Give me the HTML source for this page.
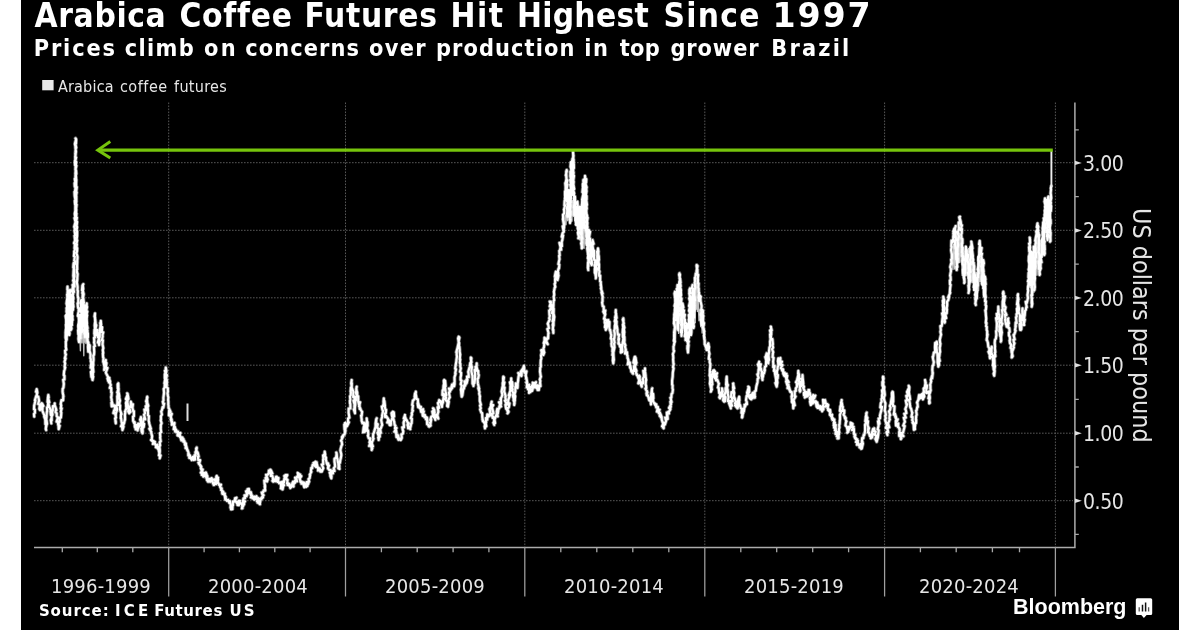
<!DOCTYPE html>
<html><head><meta charset="utf-8"><title>Arabica Coffee Futures Hit Highest Since 1997</title>
<style>
html,body{margin:0;padding:0;background:#fff;}
body{width:1200px;height:630px;overflow:hidden;position:relative;}
#panel{position:absolute;left:21px;top:0;width:1158px;height:630px;background:#000;}
svg{position:absolute;left:0;top:0;}
.t{position:absolute;white-space:nowrap;color:#fff;line-height:1;left:0;will-change:transform;}
.w{position:absolute;top:0;}
.title{top:-1.4px;font:bold 33.2px/1 "DejaVu Sans Condensed","DejaVu Sans","Liberation Sans",sans-serif;}
.sub{top:36px;font:bold 23.3px/1 "DejaVu Sans Condensed","DejaVu Sans","Liberation Sans",sans-serif;}
.leg{top:78.6px;font:16px/1 "DejaVu Sans Condensed","DejaVu Sans","Liberation Sans",sans-serif;color:#e6e6e6;}
.src{top:603.7px;font:bold 15px/1 "DejaVu Sans","Liberation Sans",sans-serif;}
#bb{left:1013px;top:597.3px;font:bold 21.5px/1 "Liberation Sans",sans-serif;}
.xl{font:20px/1 "DejaVu Sans Condensed","DejaVu Sans","Liberation Sans",sans-serif;letter-spacing:0.2px;color:#e6e6e6;top:575.8px;transform:translateX(-50%);}
.yl{font:21px/1 "DejaVu Sans Condensed","DejaVu Sans","Liberation Sans",sans-serif;letter-spacing:-0.4px;color:#e6e6e6;left:1082.6px;margin-top:1.4px;}
#ytitle{left:1153.2px;top:207.8px;font:24.9px/1 "DejaVu Sans Condensed","DejaVu Sans","Liberation Sans",sans-serif;color:#e6e6e6;transform-origin:0 0;transform:rotate(90deg);}
</style></head><body>
<div id="panel"></div>
<svg width="1200" height="630" viewBox="0 0 1200 630">
<g id="grid" stroke="#585858" stroke-width="1" stroke-dasharray="1.6 1.4" fill="none">
<path d="M34 162.7H1073M34 230.3H1073M34 297.8H1073M34 365.2H1073M34 433.2H1073M34 500.7H1073"/>
<path d="M168.7 102.5V547M345.5 102.5V547M524.8 102.5V547M704.8 102.5V547M884.6 102.5V547M1055.4 102.5V547"/>
</g>
<g id="axes" stroke="#acacac" stroke-width="1.5" fill="none">
<path d="M34 547.5H1075.7M1074.9 102.5V548.3"/>
<path d="M168.7 547V596.5M345.5 547V596.5M524.8 547V596.5M704.8 547V596.5M884.6 547V596.5M1055.4 547V596.5" stroke-width="1.25" stroke="#a0a0a0"/>
</g>
<g id="ticks" stroke="#a8a8a8" stroke-width="1.3" fill="none">
<path d="M62.3 547.5V552.3M97.3 547.5V552.3M132.8 547.5V552.3M204.1 547.5V552.3M239.4 547.5V552.3M274.8 547.5V552.3M310.1 547.5V552.3M381.4 547.5V552.3M417.2 547.5V552.3M453.1 547.5V552.3M488.9 547.5V552.3M560.8 547.5V552.3M596.8 547.5V552.3M632.8 547.5V552.3M668.8 547.5V552.3M740.8 547.5V552.3M776.7 547.5V552.3M812.7 547.5V552.3M848.6 547.5V552.3M920.4 547.5V552.3M956.2 547.5V552.3M992.4 547.5V552.3M1019.5 547.5V552.3"/>
<path d="M1075 129.8H1078.8M1075 196.7H1078.8M1075 264.2H1078.8M1075 331.6H1078.8M1075 399.3H1078.8M1075 467H1078.8M1075 534.4H1078.8"/>
</g>
<g id="ymaj" fill="#e0e0e0"><path d="M1075 160.7L1081.8 162.9L1075 165.1Z"/><path d="M1075 228.3L1081.8 230.5L1075 232.7Z"/><path d="M1075 295.7L1081.8 297.9L1075 300.1Z"/><path d="M1075 363.1L1081.8 365.3L1075 367.5Z"/><path d="M1075 431.1L1081.8 433.3L1075 435.5Z"/><path d="M1075 498.6L1081.8 500.8L1075 503.0Z"/></g>
<defs><path id="sp" d="M34.2,416.7 34.0,414.0 34.9,412.9 34.9,409.5 34.0,409.3 34.2,405.2 34.5,404.5 35.4,400.4 34.9,400.4 36.2,396.0 36.3,396.5 37.3,393.0 37.3,392.1 36.7,389.2 36.0,391.8 36.9,390.8 36.9,396.5 38.3,396.7 38.9,399.8 39.0,400.7 38.2,404.0 39.8,404.6 39.3,408.9 40.0,410.0 40.2,410.0 41.5,405.9 40.2,408.3 41.4,403.3 42.4,405.5 42.0,403.3 43.4,406.0 42.6,406.4 42.4,411.0 42.5,411.0 44.4,415.6 44.2,416.7 45.3,419.7 45.3,420.0 45.4,424.3 46.2,424.0 45.8,429.0 46.2,430.0 45.8,428.5 46.6,424.7 47.0,423.9 46.6,420.5 46.3,419.6 46.6,416.6 46.6,415.5 46.8,412.1 47.2,411.2 47.0,407.6 47.7,406.9 48.2,402.8 47.6,402.1 47.9,398.4 48.7,397.5 48.3,395.0 47.9,397.9 48.3,398.4 49.3,402.4 48.4,402.9 49.4,407.2 50.0,408.3 51.1,411.7 50.4,411.4 50.9,415.1 51.6,415.5 51.7,420.4 50.9,420.3 51.3,423.3 50.8,419.9 51.1,419.3 51.8,416.1 52.5,414.8 52.1,411.6 52.7,410.8 52.9,406.2 54.6,406.1 54.7,403.3 54.5,405.8 55.1,406.1 56.4,410.0 56.0,409.0 55.5,412.1 56.7,413.3 56.7,416.3 58.0,417.3 56.6,421.7 57.9,421.9 58.2,425.0 58.5,425.3 58.7,429.2 59.7,425.8 58.7,425.6 58.8,421.3 59.8,421.8 59.7,417.6 60.9,417.7 61.3,412.5 60.8,411.7 61.7,408.3 60.7,408.7 61.2,405.2 60.7,404.3 61.4,400.2 63.1,400.4 63.3,395.6 63.5,396.2 62.8,393.3 62.6,391.6 62.7,388.7 63.4,387.9 63.8,384.2 63.8,383.6 63.2,379.8 64.4,379.4 64.4,375.7 63.8,375.2 64.1,371.2 64.5,370.0 65.2,367.3 64.6,366.9 65.1,363.3 64.5,361.9 65.6,358.4 64.8,358.3 65.9,354.3 65.3,353.8 65.1,350.7 66.3,349.7 65.8,346.7 65.9,345.7 65.8,341.4 66.3,340.8 65.6,337.7 65.6,337.0 65.7,333.3 65.6,333.1 65.9,329.1 66.2,328.9 66.0,324.4 66.2,324.3 66.2,321.1 66.2,319.7 65.6,316.0 66.3,315.0 65.9,316.3 66.6,320.0 66.2,320.5 66.5,324.4 65.9,324.6 66.1,328.0 66.8,328.8 66.6,332.7 67.0,333.1 66.7,336.6 66.6,337.0 66.6,340.0 66.6,337.1 66.6,337.0 66.9,332.6 67.2,332.1 66.8,328.3 67.2,327.8 66.3,324.6 66.2,323.7 66.3,320.1 67.2,320.1 66.4,315.8 67.1,315.1 67.4,311.3 66.5,311.8 66.8,307.6 67.6,307.5 66.5,303.5 67.0,302.7 67.0,300.0 66.6,302.8 67.3,304.1 67.1,307.3 66.5,308.1 67.2,311.7 66.6,311.8 67.5,316.6 66.7,317.0 66.6,320.8 66.9,321.5 67.1,325.3 67.6,325.7 66.8,329.6 67.4,329.7 66.8,333.1 67.3,335.0 67.5,333.5 66.8,329.4 67.5,329.5 66.8,325.1 66.8,325.2 67.3,321.2 67.4,320.9 67.1,317.0 67.4,315.8 66.9,312.6 66.8,311.3 67.2,308.1 67.7,307.0 67.4,303.8 67.2,302.4 67.1,299.6 67.7,298.6 67.1,294.7 68.0,293.7 67.9,290.3 67.5,290.1 67.5,286.7 67.4,289.7 67.8,289.7 67.4,294.4 67.9,294.4 67.5,298.2 67.1,299.3 67.1,302.9 67.4,303.6 67.2,307.4 68.2,307.4 67.5,311.0 67.5,311.9 67.4,315.6 67.6,315.7 68.5,320.0 67.6,320.1 67.7,324.1 67.3,325.0 67.9,328.6 68.0,330.0 67.7,328.6 67.5,325.2 67.6,324.2 67.6,321.1 68.0,319.8 68.4,316.3 68.7,316.0 68.7,311.7 68.3,311.3 69.1,308.1 68.8,307.4 68.0,303.1 69.1,303.1 68.7,300.0 69.0,303.3 68.3,303.5 68.8,307.7 69.2,307.6 69.0,312.1 69.2,312.1 68.6,315.6 68.5,316.9 68.5,320.8 69.1,321.0 69.3,325.0 69.1,326.0 69.6,329.5 69.2,329.8 69.5,333.1 69.3,335.0 69.6,333.4 68.8,330.2 69.7,329.0 69.7,325.2 69.5,324.9 69.5,321.2 69.9,320.9 69.7,317.5 69.2,316.2 69.9,313.0 69.8,311.7 69.1,308.7 70.0,308.1 70.0,304.4 69.8,303.6 69.8,300.3 70.4,299.1 70.5,295.1 69.3,295.1 70.4,290.8 70.0,290.0 70.0,291.5 69.7,295.5 69.8,295.4 69.7,299.3 70.8,300.1 70.7,303.5 70.8,303.7 70.0,308.1 70.4,308.7 69.8,311.8 70.4,312.6 70.1,315.9 70.3,316.2 70.0,320.5 71.1,321.2 71.2,324.7 71.2,325.2 70.6,328.5 70.8,330.0 71.5,328.7 70.8,325.0 70.7,323.8 70.6,320.2 70.9,320.3 70.9,316.4 71.3,315.2 71.2,311.3 71.9,311.5 71.7,307.0 72.1,306.9 71.9,303.6 71.7,301.7 72.0,303.1 72.1,306.9 71.5,307.7 72.3,310.6 71.8,311.7 71.6,315.4 72.5,316.0 72.1,319.2 72.0,320.1 71.6,323.3 72.0,325.0 71.7,324.1 72.0,320.3 72.6,320.0 72.0,316.2 71.7,314.8 72.0,312.0 71.9,310.8 72.3,306.9 72.6,306.8 72.2,303.1 72.1,302.5 71.8,299.2 72.9,298.0 72.4,294.6 72.9,293.9 72.1,290.8 72.3,290.0 73.0,285.9 72.5,285.0 73.0,286.8 72.0,290.2 73.1,290.4 72.8,293.6 72.6,294.1 73.2,298.7 73.4,299.0 72.3,302.1 72.9,302.7 73.5,306.9 73.1,306.8 73.0,310.0 73.0,307.0 72.5,306.8 72.8,302.3 73.3,302.1 72.7,298.8 73.4,298.2 72.7,294.7 73.3,293.8 73.1,290.2 73.4,288.9 73.1,285.7 74.0,285.4 73.9,281.4 73.1,280.7 74.1,276.9 73.3,276.1 73.5,272.6 73.5,272.1 73.8,268.0 73.3,267.6 73.5,264.3 73.7,263.0 74.0,264.7 74.1,268.6 73.8,269.2 74.4,272.6 74.2,273.6 73.5,277.5 73.6,277.2 73.9,281.3 73.6,282.3 74.1,286.7 73.5,286.8 73.6,291.1 74.0,292.0 73.6,290.2 73.5,286.9 74.6,286.7 74.4,281.9 74.7,281.7 73.8,277.6 74.5,277.0 74.4,273.8 74.1,273.0 73.9,269.9 74.3,268.0 74.1,265.2 74.9,264.2 75.0,261.1 74.2,260.8 74.8,256.6 73.9,256.2 74.3,251.8 74.1,251.9 75.1,248.7 74.5,248.2 74.9,244.4 74.0,243.1 75.2,239.9 75.0,239.9 74.5,235.7 75.3,235.3 74.5,230.9 74.8,230.0 74.6,227.2 74.2,226.9 75.4,222.3 75.4,221.6 74.5,218.1 75.5,218.5 74.8,214.1 74.8,213.5 75.5,209.8 75.3,209.5 75.4,204.6 75.1,204.6 74.8,200.8 75.4,199.9 74.7,195.9 74.7,195.5 74.5,191.8 74.9,192.4 75.6,186.8 74.8,186.8 74.6,183.1 75.4,182.9 74.8,178.9 75.4,178.9 75.5,173.9 75.4,173.8 75.7,170.3 75.4,169.7 75.6,166.0 75.0,165.2 74.9,160.7 75.4,161.0 75.2,156.2 75.4,156.5 75.8,152.3 76.0,151.9 75.4,147.7 75.9,148.7 74.9,144.0 75.0,143.3 76.1,139.2 75.5,138.3 76.1,139.6 76.0,143.7 75.3,143.4 76.2,147.6 75.8,148.0 75.4,152.4 75.3,153.0 75.5,157.1 76.1,157.4 75.3,161.1 76.2,161.8 75.8,165.3 76.4,165.7 75.5,169.5 76.0,170.1 76.3,173.9 75.8,174.3 76.1,178.5 76.3,180.0 76.1,183.8 76.1,183.2 76.2,187.4 76.8,187.0 76.2,191.5 76.7,192.4 75.8,196.8 76.3,196.0 76.3,201.1 76.4,201.2 75.8,205.0 76.6,204.6 76.0,209.4 76.3,209.4 76.0,213.3 76.5,213.3 76.0,217.9 76.9,217.6 76.2,221.8 77.1,221.9 76.6,226.0 77.1,227.0 76.6,230.0 77.1,231.1 77.1,234.9 77.1,235.9 76.6,240.0 77.2,240.3 76.5,243.8 76.9,244.4 76.4,248.0 77.2,248.1 77.0,251.7 76.4,252.9 77.4,256.3 77.5,257.6 77.2,261.2 77.3,261.7 77.1,265.4 77.1,265.5 77.2,269.5 76.6,269.8 77.3,273.5 77.6,273.9 77.3,277.7 77.3,279.0 76.9,282.3 76.9,282.8 77.5,286.1 77.6,287.5 77.5,290.0 77.9,291.0 77.7,294.5 77.7,295.6 78.4,298.8 78.3,299.1 78.2,303.7 77.6,303.3 78.1,308.0 78.7,308.4 78.6,312.2 78.3,313.0 77.8,315.9 78.7,317.0 79.0,320.2 78.9,321.5 78.6,325.4 78.3,325.9 78.7,329.2 78.1,330.4 78.4,334.3 79.1,334.2 78.5,338.6 78.5,339.0 79.0,342.0 79.2,339.1 79.6,338.3 79.3,334.1 78.8,334.2 79.5,330.1 79.8,329.0 80.1,325.4 79.4,325.0 79.5,321.3 80.0,319.8 80.1,316.7 79.8,315.0 80.0,315.8 80.0,320.1 79.8,321.0 79.5,323.8 80.3,324.8 80.2,328.7 79.8,329.2 80.5,332.0 79.7,333.2 79.9,336.5 80.5,338.0 80.2,336.7 80.7,333.3 80.8,332.4 80.2,328.4 80.4,327.9 80.3,324.4 81.3,324.3 80.7,320.6 80.3,319.9 81.0,316.3 81.2,315.5 81.6,311.6 80.8,311.8 80.5,307.6 81.0,306.9 80.7,303.1 80.6,303.0 81.3,300.0 81.9,302.6 81.0,303.3 81.4,307.4 81.9,308.1 81.3,311.2 81.0,311.6 82.0,315.9 81.1,315.9 82.0,319.9 82.1,320.6 81.5,323.8 81.5,325.3 81.7,328.8 82.2,328.8 82.0,332.0 82.3,329.3 82.1,328.3 82.5,324.6 81.9,324.1 82.8,320.5 82.7,319.0 82.0,316.0 82.6,315.6 82.6,311.5 82.8,310.5 82.1,306.4 82.6,306.5 82.7,301.9 82.5,302.2 82.8,297.6 82.5,297.7 82.7,293.8 82.3,293.2 82.7,290.0 82.0,290.2 82.4,285.6 83.3,284.2 82.8,285.1 83.2,289.0 82.8,290.5 83.6,294.0 83.7,294.1 82.9,298.3 83.3,298.4 83.9,303.0 83.0,302.8 84.1,307.5 83.1,307.9 83.1,310.9 84.1,311.7 83.8,316.1 83.9,316.6 83.2,319.8 84.1,321.1 83.5,324.5 83.8,326.0 83.2,324.4 83.6,320.8 83.8,320.3 84.5,316.8 84.4,316.4 83.4,312.7 84.0,312.4 83.9,308.2 84.2,307.6 84.2,305.0 84.7,307.5 84.7,308.8 83.7,311.9 84.7,312.2 83.8,316.4 84.5,316.7 84.2,320.7 84.4,321.0 84.4,325.4 84.5,325.9 85.0,329.2 84.3,329.7 84.4,333.8 85.2,333.8 85.0,337.0 85.2,334.1 85.0,333.1 85.7,329.9 85.8,328.3 85.0,325.2 85.9,324.3 85.3,320.1 85.2,319.7 85.6,315.7 86.0,315.4 85.5,311.6 85.8,310.0 85.4,305.8 86.7,307.3 86.7,303.3 86.3,306.2 87.1,306.8 86.3,310.6 87.3,311.5 86.5,314.7 87.1,315.2 86.5,318.9 86.6,320.1 87.0,323.2 86.8,324.5 87.6,328.2 86.6,328.1 86.6,332.1 87.7,332.6 87.5,336.5 87.2,338.0 86.9,336.9 86.9,333.5 87.3,332.3 87.5,330.0 87.5,333.2 87.9,333.6 87.9,337.2 87.4,337.8 87.8,341.8 88.5,342.4 88.2,346.2 88.0,346.9 88.5,350.6 88.3,351.7 89.3,351.0 89.8,345.7 89.5,345.0 89.8,346.4 89.6,350.0 89.5,350.6 90.5,354.3 90.5,355.0 90.4,358.2 90.8,359.0 90.8,361.7 91.4,362.2 90.6,367.7 92.0,367.6 91.6,372.7 90.9,371.9 91.4,377.0 93.2,376.6 92.5,380.0 92.1,377.1 92.8,376.5 92.9,372.7 93.4,372.0 93.0,368.0 92.9,367.8 93.3,363.8 93.1,363.7 93.5,360.1 93.5,358.8 93.3,355.4 94.0,354.8 94.2,351.7 94.1,350.1 93.9,346.5 94.9,346.1 94.0,342.1 94.3,341.5 94.0,337.9 94.9,337.6 94.5,333.8 94.3,333.7 94.5,329.5 95.1,329.3 94.7,325.5 94.8,324.4 95.2,321.2 95.3,320.2 94.8,317.0 94.9,315.9 95.0,313.3 94.5,316.5 95.0,317.1 95.1,320.6 95.4,321.1 95.8,324.8 96.3,325.2 95.3,329.6 96.5,329.6 95.6,333.9 96.2,335.0 96.9,334.4 95.4,329.6 97.6,332.5 97.5,330.0 96.9,332.8 97.4,332.6 97.8,337.1 99.2,336.9 97.9,342.6 99.0,341.2 99.0,345.0 99.4,341.7 99.7,341.7 99.1,337.5 99.7,337.2 99.7,332.9 100.1,332.3 99.8,329.2 100.3,327.7 100.4,324.8 100.6,323.8 100.8,320.8 101.1,324.7 100.2,323.0 101.5,328.3 102.1,327.1 101.8,332.1 103.2,332.4 102.5,335.0 102.7,336.3 102.0,340.1 102.9,340.3 102.5,344.8 102.7,345.0 103.3,348.1 102.8,350.0 103.2,353.1 102.9,353.4 103.1,357.4 103.5,357.9 103.2,361.8 103.6,362.6 104.3,366.1 104.5,367.2 104.2,370.0 104.5,367.2 104.9,367.9 105.5,362.4 105.1,362.9 105.8,360.0 105.6,363.6 106.5,363.0 105.5,368.4 107.5,367.9 105.9,372.3 106.0,373.1 108.2,377.3 107.5,378.3 108.3,381.2 109.4,377.9 108.9,382.3 109.5,379.4 109.8,382.8 110.1,381.1 110.0,383.3 110.8,384.9 109.8,387.9 111.2,387.9 111.2,392.5 111.7,392.3 111.4,396.5 111.1,397.0 111.7,400.0 111.5,400.1 112.8,405.2 111.4,402.7 111.7,406.4 114.4,405.5 115.1,409.9 114.2,410.0 113.4,413.1 114.9,412.8 116.0,417.6 115.1,418.4 115.8,421.7 115.8,423.3 115.5,421.4 115.4,418.4 115.7,418.0 115.8,414.0 116.0,413.0 116.9,410.3 117.0,408.9 116.3,405.6 117.3,405.3 117.4,402.0 117.4,400.9 117.3,397.0 117.2,397.0 117.9,393.6 117.2,392.5 118.3,389.3 117.8,388.4 117.7,384.4 118.3,383.3 118.4,385.1 118.4,388.2 118.6,388.7 118.4,392.5 118.8,393.0 119.3,396.4 119.1,397.0 120.0,400.8 119.7,401.6 119.2,405.1 120.1,405.3 120.0,408.3 119.9,409.3 121.5,414.1 121.0,414.1 120.8,418.5 121.0,417.9 121.7,422.8 122.4,422.8 121.0,426.3 122.1,426.8 122.5,430.0 123.5,426.6 122.3,427.6 124.2,422.9 124.1,423.1 125.0,419.1 125.0,420.1 125.0,416.7 124.9,415.0 125.5,411.0 125.0,411.7 126.7,407.5 126.2,407.3 126.1,403.3 125.9,403.2 127.2,398.7 125.9,399.0 127.6,394.7 127.2,393.3 127.6,393.9 128.5,398.8 127.8,398.8 127.4,402.8 127.6,403.1 128.2,407.7 128.6,407.8 128.2,411.5 129.2,413.3 130.6,411.8 129.0,407.5 130.8,406.9 130.7,403.2 130.8,401.7 131.2,402.5 130.1,406.8 132.9,404.2 132.4,408.0 132.5,408.3 133.3,411.4 133.9,411.2 133.9,416.3 133.0,416.5 133.1,419.6 133.1,420.8 134.2,423.3 134.7,422.0 134.8,427.0 136.5,425.0 136.0,427.5 134.9,424.8 135.7,429.3 137.2,426.3 137.6,430.4 137.5,430.0 137.7,429.4 139.6,425.1 137.8,426.5 138.2,423.6 140.5,425.5 140.7,421.4 140.9,422.5 140.9,417.0 140.8,418.0 140.1,419.7 141.8,423.9 141.9,423.8 142.0,428.0 141.2,428.2 141.7,431.6 142.5,433.3 142.7,431.6 142.5,428.4 143.7,427.0 144.1,423.8 142.9,423.7 143.6,418.4 145.2,419.3 144.0,414.6 145.0,413.3 144.4,409.6 146.3,410.3 145.7,406.3 146.8,406.0 146.6,402.4 146.1,401.3 147.4,397.6 147.2,396.7 146.9,397.9 147.2,401.6 147.3,402.8 148.3,405.9 147.6,407.1 148.0,410.8 147.9,411.0 148.0,415.2 148.9,416.1 148.8,419.0 148.7,420.5 149.2,423.0 149.2,423.5 150.9,428.8 149.3,428.7 151.3,431.9 151.2,432.9 152.1,436.1 152.0,437.1 151.7,440.0 151.0,439.9 153.4,442.1 151.9,439.9 154.4,442.3 153.7,441.2 152.9,444.0 154.9,441.8 153.4,443.5 155.0,443.3 155.7,445.3 155.0,443.9 156.4,447.1 157.4,444.7 155.9,447.4 157.8,446.5 157.5,448.3 158.5,449.4 159.2,452.6 159.6,451.4 158.9,455.4 160.6,455.4 159.7,458.3 160.2,455.7 159.5,454.6 159.8,451.3 159.8,450.0 159.4,446.6 160.1,445.5 159.7,442.1 160.7,441.4 160.1,437.6 160.3,436.8 160.0,433.0 161.2,432.2 160.7,428.8 160.8,427.4 160.8,425.0 161.6,423.2 160.7,420.4 161.0,419.4 160.9,416.2 161.9,414.6 161.2,411.5 162.0,410.0 162.6,407.0 163.3,407.7 164.1,403.6 163.3,404.0 162.8,401.7 163.5,400.6 163.4,397.7 163.6,396.3 164.0,393.1 164.0,392.0 163.7,389.0 164.6,387.7 164.8,384.0 164.4,383.3 165.1,379.6 164.8,378.0 164.8,374.1 165.8,374.7 164.9,370.8 165.5,371.5 165.8,367.5 166.3,370.7 166.5,370.8 165.7,374.6 166.9,375.0 166.2,378.8 166.8,379.9 166.8,382.8 166.8,384.0 166.5,387.2 167.8,388.1 167.9,391.9 167.5,393.3 168.0,396.4 168.3,397.3 168.1,400.0 168.3,401.3 168.3,404.8 168.5,405.5 168.5,408.0 168.9,408.1 170.6,411.9 169.1,410.6 168.9,415.4 171.8,413.8 170.8,416.7 170.5,416.5 171.7,419.7 170.8,419.3 171.7,422.4 172.1,421.3 171.8,424.8 174.5,422.9 174.0,427.2 174.2,426.7 173.7,429.2 174.8,426.7 175.6,430.2 175.1,428.7 175.2,431.7 176.0,429.5 176.7,431.7 175.6,431.0 178.5,433.3 178.0,431.5 177.5,435.4 177.9,431.7 177.9,434.5 180.4,433.0 178.3,435.8 180.0,435.0 180.2,437.5 179.6,435.6 182.5,439.0 180.4,436.9 181.4,440.4 182.5,437.5 183.5,441.6 183.6,439.2 183.3,441.7 184.5,441.2 184.9,444.8 185.7,443.2 185.9,445.1 186.0,443.9 185.6,448.2 186.2,445.7 187.2,449.5 186.7,448.3 187.4,450.6 187.4,449.6 188.6,453.0 188.3,453.3 188.3,455.4 188.7,453.8 190.3,457.4 189.8,455.1 189.2,457.9 189.5,456.4 191.2,459.1 192.6,458.3 191.7,460.0 193.1,457.8 193.8,460.0 192.6,457.0 191.7,459.0 193.7,456.9 195.2,459.5 194.4,455.4 194.7,458.3 195.0,456.7 195.7,455.6 195.4,452.0 195.7,452.6 196.7,448.4 196.7,447.5 196.1,448.8 197.0,452.6 197.7,452.4 198.7,456.7 197.9,456.9 198.3,460.0 200.1,460.2 199.1,464.1 198.4,462.6 201.2,466.5 200.1,465.3 201.6,468.6 200.8,468.3 202.1,471.5 202.7,469.6 200.8,472.7 202.3,471.9 201.7,475.0 203.3,474.2 203.3,476.7 203.2,474.2 204.4,476.0 204.1,473.3 204.1,475.8 203.6,472.8 206.5,474.4 205.8,472.5 206.7,474.5 206.5,473.9 206.2,477.8 207.3,475.8 207.8,480.1 206.8,479.8 208.3,481.7 209.5,480.8 207.9,481.6 209.5,478.9 210.2,481.8 208.9,479.4 211.4,480.3 211.6,478.1 210.3,479.5 211.7,478.3 210.9,481.0 212.7,479.3 212.6,482.1 211.8,480.4 213.7,484.9 213.7,482.7 214.2,485.0 213.8,483.2 216.2,484.0 214.7,479.3 216.6,480.6 216.3,476.6 216.3,479.0 216.7,475.8 216.3,478.1 218.1,477.7 217.2,481.5 218.1,479.5 217.7,483.0 218.4,483.0 219.2,485.0 221.0,484.7 220.1,486.5 220.4,485.5 220.3,487.4 219.9,485.8 220.9,488.6 221.7,488.3 221.1,490.0 221.6,489.8 223.3,492.0 222.1,490.7 222.3,493.8 224.8,493.5 224.2,495.0 224.4,494.2 225.8,497.0 224.8,495.8 225.3,499.6 225.1,496.9 226.4,500.0 226.7,500.0 226.9,500.8 228.1,499.8 229.0,502.0 227.8,500.4 228.9,502.0 230.0,501.1 229.3,503.0 228.9,500.8 230.0,502.5 230.0,502.2 230.9,505.2 230.7,504.9 230.5,507.8 231.2,506.0 231.0,509.3 232.5,509.2 232.4,508.7 232.6,505.7 233.0,505.2 232.8,501.6 233.6,502.3 235.9,498.4 235.0,498.3 236.5,497.7 234.6,501.0 234.7,499.9 236.9,503.0 236.5,501.8 237.7,504.7 237.5,505.0 238.9,505.2 238.6,503.2 237.4,504.8 239.6,501.3 237.9,502.4 238.6,500.8 240.0,500.8 239.8,501.0 239.3,503.7 241.5,503.4 242.4,506.2 242.4,505.5 241.9,508.5 242.5,508.3 242.4,507.2 244.2,504.0 242.9,504.4 245.0,501.4 242.9,501.8 243.5,498.3 245.0,498.3 244.5,495.3 246.5,496.2 246.7,493.5 247.2,494.7 246.1,491.3 248.5,491.5 247.5,489.2 249.1,491.2 248.9,488.8 249.0,492.0 247.6,490.2 249.1,493.2 250.9,492.2 250.0,493.3 251.2,493.4 251.3,495.9 250.4,493.8 252.9,496.8 252.0,495.4 250.9,497.5 252.3,496.5 252.4,498.3 253.3,498.3 254.3,499.5 253.3,497.4 254.5,499.0 256.1,497.1 254.6,499.5 254.5,496.6 255.4,499.2 256.5,496.2 256.7,497.5 256.1,496.9 257.7,500.0 258.6,498.2 257.0,501.2 258.1,500.6 257.6,502.7 258.4,501.4 259.5,504.0 260.0,504.2 259.8,503.9 260.3,501.0 259.8,500.6 262.9,497.5 260.5,499.0 263.6,495.2 262.5,495.0 261.7,492.5 263.0,492.8 263.7,490.3 265.2,490.6 264.7,486.1 265.1,487.2 265.0,485.0 264.6,484.2 264.3,480.6 267.1,481.5 265.5,477.9 267.8,479.7 266.1,474.8 267.5,475.0 268.9,472.9 267.7,474.6 269.6,472.4 268.6,474.0 268.9,470.5 268.9,472.1 270.3,469.7 271.4,472.1 270.8,470.0 272.4,473.5 271.5,472.2 270.8,475.9 272.5,476.2 273.1,479.0 272.8,478.2 273.3,481.7 272.4,480.7 273.9,481.3 275.1,479.6 275.8,481.2 276.0,477.9 274.9,479.8 276.0,476.8 275.8,478.3 276.7,476.7 277.6,479.3 278.6,478.0 277.2,480.6 278.3,479.6 277.6,481.9 278.3,481.3 279.2,483.3 281.0,482.2 281.0,486.4 281.7,484.0 281.6,486.4 281.6,485.3 280.8,488.4 283.1,486.8 282.6,489.4 282.5,489.2 282.4,489.3 281.8,485.4 284.1,485.5 282.7,481.5 283.9,482.6 284.4,478.5 285.3,479.1 284.3,475.9 285.8,475.0 287.3,475.0 285.4,479.1 286.1,478.0 287.3,480.5 287.6,479.7 287.1,483.4 288.3,483.3 287.5,485.0 289.3,484.0 289.1,485.6 289.5,484.0 290.2,487.7 291.2,486.4 290.8,487.5 292.6,485.5 290.3,488.0 291.5,485.2 293.6,486.5 293.4,484.1 293.7,484.6 292.5,482.7 292.1,484.3 293.1,481.6 294.9,482.9 295.8,480.0 295.0,480.8 296.5,479.0 297.0,481.4 295.1,477.6 295.9,480.2 297.3,476.4 296.0,478.5 298.2,475.1 298.5,476.9 298.5,475.3 298.6,476.9 297.7,472.9 299.2,474.2 300.1,474.5 299.0,477.4 301.3,476.1 299.5,478.9 299.8,478.0 300.4,481.8 301.7,481.7 301.4,483.7 302.1,482.2 303.9,484.6 303.7,482.3 304.9,484.9 303.4,484.4 304.3,487.3 305.5,485.7 305.0,486.7 304.4,484.7 306.2,486.8 306.0,484.8 307.4,486.0 307.9,483.3 305.8,485.1 306.6,482.1 308.1,483.8 307.2,482.0 308.4,483.8 308.5,481.2 309.2,481.7 308.5,479.0 309.6,478.3 310.2,474.8 309.7,474.7 311.4,471.8 310.9,471.4 311.3,467.8 312.2,468.2 312.5,465.0 314.3,465.2 313.4,462.9 314.7,465.9 314.3,462.6 313.9,464.6 315.5,461.7 315.0,463.3 316.7,462.3 315.1,465.9 316.8,463.5 316.9,466.1 317.0,464.6 315.9,467.0 317.0,464.6 317.9,468.0 318.3,467.5 317.9,468.7 318.6,467.8 318.0,470.7 319.7,468.3 320.4,470.7 319.6,469.8 320.3,471.6 322.0,470.0 321.7,471.7 323.0,468.8 323.3,468.2 321.8,464.6 323.2,464.2 323.1,459.4 323.5,459.7 323.1,455.3 325.2,454.5 324.7,451.7 324.5,454.0 324.7,455.0 326.1,458.0 325.8,458.9 326.6,462.6 326.7,463.3 327.5,465.0 328.1,463.3 328.1,466.7 329.1,465.3 328.0,468.7 327.9,467.8 329.2,470.0 330.7,470.0 331.2,473.5 329.7,472.6 331.0,476.5 331.5,476.0 331.3,478.3 330.3,475.8 330.6,476.8 331.8,472.9 333.0,473.4 332.9,470.7 334.6,471.0 333.7,468.3 335.1,466.4 334.7,462.7 334.5,461.9 334.5,458.8 336.1,457.4 336.6,454.0 336.3,452.5 336.7,453.8 337.0,458.1 337.4,458.6 337.9,462.1 338.2,462.6 338.6,466.7 338.3,468.3 339.5,468.9 338.8,464.7 339.4,466.1 338.5,462.3 339.9,462.9 340.3,460.0 340.8,458.1 341.3,455.1 341.1,453.4 340.4,450.6 340.6,449.1 341.4,446.0 342.1,444.4 341.7,441.7 341.0,440.8 343.2,436.3 341.9,437.2 343.3,435.0 344.5,434.5 345.5,430.8 344.8,431.8 345.6,428.0 344.6,430.0 344.3,424.6 345.8,425.0 344.9,423.1 346.2,426.6 345.6,422.8 347.0,426.2 348.9,422.2 347.1,424.5 348.3,423.3 348.0,422.0 348.1,418.3 349.4,417.8 348.6,412.7 348.6,413.3 348.7,408.5 350.4,408.5 350.3,404.0 350.0,403.3 349.9,400.7 350.3,400.0 350.0,396.2 350.7,395.4 350.9,391.7 350.6,391.6 350.9,387.6 351.7,386.7 351.8,383.1 351.3,382.4 351.7,380.0 351.2,384.0 351.2,382.7 351.8,388.1 351.9,388.3 353.4,391.6 353.3,393.3 353.2,397.2 354.1,396.2 354.9,400.4 353.5,400.7 354.6,404.8 354.4,406.0 354.5,409.3 353.8,409.4 355.0,413.3 354.9,410.2 354.8,409.5 355.0,406.1 355.2,405.2 355.3,401.4 355.9,400.3 355.8,397.2 356.7,396.1 355.9,392.3 356.9,392.0 356.3,388.5 356.7,386.7 356.4,388.4 356.2,392.1 357.2,392.0 357.3,395.6 358.2,396.1 358.2,400.7 358.3,401.7 359.2,405.3 360.1,402.2 359.1,406.4 359.5,404.0 359.7,408.9 360.2,408.1 360.8,410.0 362.1,411.9 361.6,416.0 361.1,415.5 361.7,419.5 361.6,420.6 362.5,423.3 363.9,422.6 364.4,426.3 364.2,425.8 364.4,429.6 363.7,427.1 363.1,432.3 365.0,431.7 366.0,430.4 365.8,425.6 365.3,426.1 366.6,421.9 366.9,421.4 366.7,418.3 367.0,421.7 367.5,422.0 367.6,426.0 367.0,426.1 367.3,430.9 368.0,430.4 368.3,434.8 367.9,435.6 368.7,438.3 370.4,438.4 369.5,442.6 370.8,441.8 369.2,446.0 370.5,444.1 371.9,449.0 372.4,448.0 371.7,450.0 371.7,446.6 372.9,446.3 371.7,443.1 371.9,442.4 373.6,438.6 373.1,437.9 373.2,433.8 373.7,433.3 374.5,430.5 374.4,430.9 375.4,427.2 375.6,426.6 375.6,423.3 375.7,422.8 376.1,419.8 376.7,418.3 376.3,419.4 376.2,423.2 377.8,424.1 377.1,427.6 378.4,428.7 378.2,432.7 377.5,432.6 378.9,436.7 378.2,437.5 378.7,440.0 378.9,437.3 379.8,436.8 379.6,433.0 380.8,433.0 380.2,429.2 380.8,428.3 381.9,425.4 382.2,425.0 381.2,420.2 381.3,419.6 382.4,416.0 382.1,415.6 383.1,410.9 382.5,410.0 381.8,406.5 382.9,406.3 384.0,402.1 383.5,402.2 383.8,398.3 384.0,401.5 384.4,401.1 385.0,406.1 384.7,406.5 385.6,410.1 386.1,409.8 385.8,413.3 385.0,413.4 385.2,417.2 385.7,415.5 388.0,418.7 386.3,416.3 388.6,420.4 388.3,420.0 387.3,422.5 388.8,419.9 390.9,424.1 390.8,422.1 389.6,425.0 389.0,422.0 390.8,425.0 390.7,422.1 391.1,421.2 392.6,417.3 392.2,417.0 391.5,413.2 392.8,411.7 393.8,412.4 394.1,416.5 393.0,417.5 394.0,420.8 394.1,421.1 394.6,424.9 395.4,425.6 395.0,428.3 396.6,428.0 394.4,431.7 396.2,430.7 396.6,434.1 396.1,432.4 396.5,437.2 397.5,436.7 398.8,438.6 398.1,435.3 398.4,439.8 397.6,437.0 399.8,439.1 400.8,438.3 400.4,440.0 401.7,438.2 400.8,440.0 401.8,437.4 401.8,437.8 401.4,434.4 402.8,433.8 403.3,431.1 402.8,430.0 402.3,427.4 404.0,427.3 403.6,422.4 403.5,422.9 404.8,418.8 403.8,418.4 405.0,415.0 404.0,418.5 405.1,416.9 406.3,420.4 406.6,420.0 408.0,423.2 408.2,422.8 407.5,425.0 408.8,423.2 407.9,426.5 408.2,424.8 408.1,428.3 408.1,426.0 410.3,429.1 410.0,428.3 410.6,426.6 411.2,423.5 411.6,423.5 411.9,418.7 410.8,418.4 412.0,414.4 411.7,413.3 412.9,410.6 412.3,410.4 412.9,405.6 412.2,405.0 412.9,400.6 413.7,400.0 415.1,397.7 415.7,397.8 415.0,393.4 414.6,396.9 415.9,392.5 415.8,391.7 415.7,391.9 415.8,397.0 415.9,394.6 416.6,399.0 417.8,399.3 418.1,403.7 418.3,403.3 418.9,405.4 417.6,403.2 418.2,407.2 418.6,404.5 419.6,408.1 420.9,406.8 420.8,408.3 420.2,406.7 421.1,411.9 423.1,409.1 421.3,411.9 423.8,411.3 423.1,414.3 422.3,412.1 422.8,415.8 424.2,415.0 424.6,416.6 424.0,414.7 424.4,417.1 424.8,414.8 426.0,419.5 424.9,415.6 426.7,418.3 427.0,417.5 427.6,422.5 427.0,420.0 427.1,424.1 427.1,423.1 428.9,426.5 429.2,426.7 430.7,425.7 430.1,422.5 430.5,423.6 431.2,419.4 430.2,420.0 431.3,416.7 433.1,415.6 432.3,411.5 433.3,412.8 433.6,408.6 433.0,408.3 434.3,409.9 434.7,413.1 434.0,413.7 434.0,417.4 435.3,417.5 435.3,420.0 435.2,418.4 435.1,419.2 435.9,415.2 438.3,418.6 437.1,414.4 437.5,415.0 438.3,411.3 438.5,411.9 437.6,407.4 439.2,407.8 437.9,403.0 438.6,402.7 439.2,400.0 441.0,402.8 440.7,401.2 441.3,405.2 441.8,401.9 442.0,406.9 441.6,404.4 441.7,406.7 442.6,403.0 442.9,403.0 443.3,398.9 443.5,398.3 443.7,394.1 442.4,394.9 442.6,390.5 443.3,389.6 443.6,385.0 444.2,385.9 443.8,380.7 444.2,380.0 445.1,380.9 445.6,386.1 444.8,386.3 445.5,390.6 445.1,390.0 446.4,395.0 444.9,394.7 446.2,398.0 445.1,399.0 447.9,402.8 447.6,401.8 447.1,405.9 448.0,406.7 448.0,406.1 448.8,401.7 448.0,401.0 449.6,397.2 449.8,397.5 448.9,392.5 450.0,391.7 449.0,388.5 449.8,390.9 452.4,387.6 450.6,390.2 452.1,384.5 451.8,387.5 452.5,385.0 454.2,386.2 454.6,383.4 454.5,384.9 453.9,383.1 453.2,385.8 454.5,383.0 454.6,381.8 454.5,378.2 454.5,377.3 455.6,373.7 455.2,373.3 456.0,369.2 455.2,368.7 455.8,364.7 455.8,364.5 456.4,360.9 456.4,360.2 457.0,356.4 456.7,355.0 456.7,350.8 456.3,352.2 457.8,346.8 457.6,347.5 458.8,342.0 458.7,341.7 458.1,338.3 458.7,336.7 459.4,337.7 458.5,341.8 459.1,342.8 459.0,346.2 459.4,346.9 459.7,350.1 459.6,351.1 460.2,354.7 460.1,355.1 459.7,359.3 460.2,359.4 459.8,362.8 460.3,363.6 460.3,366.7 460.8,368.3 460.0,371.7 461.1,372.8 461.0,375.6 460.6,377.1 460.6,380.1 461.6,380.6 460.7,384.3 461.8,385.6 461.1,388.7 460.9,389.8 461.4,393.0 462.2,394.1 461.7,396.7 461.2,392.7 462.3,395.6 463.2,389.6 462.6,390.8 464.3,386.9 464.0,388.6 464.2,385.0 465.3,385.5 464.5,381.4 465.4,384.5 466.1,381.7 466.8,382.8 467.4,379.9 466.3,383.6 466.4,379.5 467.5,380.0 467.0,376.6 468.8,377.0 468.4,371.8 468.2,372.0 469.6,367.1 469.7,366.7 470.3,362.9 470.8,363.1 471.4,358.2 470.8,357.5 470.8,359.0 471.5,362.2 470.9,362.7 471.5,366.5 471.9,366.8 471.4,370.5 471.4,371.5 472.2,375.1 472.5,375.5 472.5,378.3 472.5,379.0 472.5,383.8 473.9,382.5 473.5,386.0 473.0,382.5 474.5,382.9 475.1,377.9 475.0,379.1 475.1,373.7 475.0,373.3 474.6,369.9 476.1,370.6 475.5,366.8 476.6,367.0 476.7,363.3 476.5,366.1 476.6,367.0 477.8,371.5 478.2,370.8 478.3,374.3 478.8,375.0 478.3,378.0 477.5,379.0 477.9,383.4 478.0,384.0 479.2,388.9 478.3,388.1 479.5,392.0 479.2,393.6 480.0,396.6 479.8,397.4 479.8,401.0 479.9,401.3 480.9,404.9 480.0,405.4 480.8,408.3 480.1,409.3 481.3,412.7 482.1,413.0 482.3,417.2 482.5,418.3 482.9,421.3 482.4,419.1 485.1,424.5 485.3,422.9 485.7,426.0 484.6,426.2 485.0,428.3 485.2,424.9 486.3,426.3 485.6,422.5 486.1,422.7 485.9,418.2 487.2,419.7 487.5,416.7 487.0,417.8 487.3,414.3 488.8,416.4 490.3,411.9 490.6,415.4 490.3,410.6 490.0,411.7 489.4,409.1 489.7,409.2 491.5,404.5 490.9,404.5 491.7,401.7 491.2,405.0 493.2,405.2 491.4,408.6 492.3,408.6 493.5,413.2 492.2,413.9 492.6,417.9 493.5,417.0 494.6,422.1 493.9,421.5 494.2,425.0 493.4,422.7 495.1,423.1 494.4,419.0 494.2,420.5 496.6,414.4 497.8,416.3 496.7,413.3 497.8,413.8 498.3,409.8 496.7,411.7 497.3,408.8 498.1,410.2 499.8,407.0 499.2,408.3 499.4,406.1 501.1,406.5 499.0,402.2 501.0,403.9 500.9,398.2 500.5,399.3 501.7,396.7 502.4,395.0 501.6,391.5 501.8,390.4 502.4,387.1 502.8,386.4 502.7,383.1 503.2,381.4 503.1,378.3 503.3,376.7 503.9,377.5 503.2,382.5 504.4,382.4 503.4,387.4 504.6,387.5 504.1,392.0 504.3,391.6 505.7,396.3 505.3,397.0 505.9,400.4 504.9,400.6 507.1,404.6 505.4,404.7 506.1,408.8 506.4,408.0 508.1,412.5 507.5,413.3 508.6,411.8 507.3,408.6 508.8,407.3 509.5,403.3 508.1,404.0 508.3,399.3 508.4,399.6 510.3,394.4 508.7,395.4 510.0,391.7 510.3,391.0 510.4,386.0 510.8,386.5 509.9,382.3 511.1,381.3 511.2,378.3 511.2,380.9 512.2,382.2 512.6,386.4 512.0,386.4 512.7,389.8 512.4,390.8 513.8,394.6 512.7,395.2 513.8,399.4 513.5,400.0 514.6,403.0 514.2,405.0 514.2,403.3 514.9,400.3 514.8,399.5 515.2,396.1 514.5,394.5 515.4,391.3 515.3,390.4 515.4,386.9 515.8,386.5 515.8,383.3 516.8,386.4 517.7,382.9 517.5,386.7 517.7,384.8 517.5,388.0 517.6,384.2 517.4,385.4 518.2,380.1 518.1,380.1 518.6,376.3 519.2,375.0 518.3,373.0 521.4,376.0 521.6,371.4 521.6,375.8 521.7,371.5 520.6,373.6 521.7,371.7 520.6,371.9 523.6,367.5 522.2,371.4 523.9,365.9 524.3,369.2 523.8,366.7 522.9,370.4 523.9,367.6 524.4,372.6 526.5,371.3 525.6,375.6 525.8,375.0 526.2,378.8 526.3,377.3 527.2,382.8 526.3,382.3 527.5,385.0 527.2,383.3 526.8,387.5 529.2,384.7 528.0,389.4 529.9,386.8 530.4,391.5 529.3,389.2 529.0,392.9 530.8,391.7 530.3,391.8 532.9,388.0 532.2,390.8 532.6,386.0 532.1,387.7 531.8,385.6 533.0,386.0 532.7,382.7 534.2,383.3 536.0,382.1 534.3,386.9 534.3,384.8 535.1,387.6 536.6,385.6 537.1,388.5 538.1,387.3 538.1,389.8 537.5,390.0 538.8,390.0 539.3,385.9 539.1,388.2 537.5,385.3 540.5,386.1 540.1,382.5 540.0,383.3 540.3,380.8 539.8,379.5 540.9,376.5 540.6,375.7 540.2,372.6 540.0,371.9 540.2,367.7 540.8,366.7 540.7,363.7 540.6,363.5 540.8,359.9 541.3,358.7 541.0,355.3 541.2,354.8 541.9,351.6 541.7,350.0 541.2,350.2 542.2,353.9 543.3,352.1 543.3,355.0 544.3,352.4 544.1,352.6 543.4,348.3 544.0,347.2 544.3,343.0 543.7,343.1 544.7,339.7 545.0,338.3 544.5,337.7 544.5,341.0 545.6,339.6 547.7,344.2 546.7,343.3 546.0,341.8 547.6,337.4 548.1,338.5 548.3,333.5 548.6,333.2 547.4,328.9 548.9,328.1 548.3,325.0 547.7,323.7 549.8,319.3 549.2,318.3 549.9,315.7 549.5,315.1 549.2,310.5 549.7,310.7 551.2,306.6 549.7,306.3 550.9,302.4 550.8,301.7 549.7,301.5 552.2,307.0 551.0,304.8 552.5,310.6 552.5,310.0 552.1,313.2 553.2,313.1 553.2,316.9 553.3,317.9 552.5,321.3 553.4,322.2 552.7,324.9 553.0,326.3 552.8,329.8 553.3,329.7 553.3,333.0 553.2,330.0 552.8,330.0 553.1,325.9 553.5,325.8 553.5,321.2 553.8,320.8 554.1,317.8 554.3,316.9 553.4,312.7 553.6,312.6 553.7,308.8 553.3,308.3 553.5,304.4 553.4,304.4 553.7,300.6 554.2,300.3 553.7,296.6 554.2,295.0 553.9,291.5 554.0,291.2 554.7,287.7 555.3,286.9 554.6,283.9 555.2,283.1 555.1,278.9 555.6,279.3 556.1,275.3 556.2,274.6 555.8,271.7 554.8,276.6 555.3,274.3 556.2,278.1 558.6,275.3 557.5,280.0 557.6,277.0 558.3,276.9 558.2,272.7 557.7,272.0 558.6,268.3 559.0,268.5 559.3,264.5 558.4,264.2 559.2,260.2 559.5,259.2 559.1,255.7 559.7,255.4 559.3,250.9 560.0,250.0 560.7,246.3 561.2,249.7 559.5,242.9 561.9,246.2 561.7,241.7 562.2,240.5 563.1,235.4 561.7,236.8 562.5,233.3 563.7,232.0 562.7,226.3 563.9,227.7 563.7,223.1 563.8,224.4 562.9,219.0 563.2,218.9 563.0,214.7 564.2,213.3 564.2,210.1 563.9,209.8 565.1,205.3 564.4,205.4 564.6,201.3 564.8,199.9 565.1,196.7 565.0,195.0 565.0,191.3 565.6,192.3 565.6,187.5 565.8,188.3 565.3,183.2 565.6,183.2 566.4,179.2 566.6,179.9 566.4,175.6 565.8,175.3 566.8,171.3 566.7,170.0 566.2,171.8 566.4,175.6 566.2,175.7 566.5,179.8 567.5,180.2 566.4,184.4 567.5,184.3 566.8,188.0 566.8,188.2 567.0,191.9 566.5,192.9 566.7,195.9 567.3,196.3 566.9,201.1 567.5,201.1 567.3,204.5 567.9,205.0 566.8,208.7 567.6,209.5 567.7,213.1 567.8,213.2 567.5,216.7 567.1,213.4 567.2,213.5 568.1,208.7 567.4,208.3 568.0,204.5 567.4,203.9 568.1,200.6 568.2,199.6 567.8,195.8 568.2,195.8 567.6,190.9 568.3,190.0 568.0,190.4 569.2,195.5 569.2,195.0 569.4,198.7 569.0,198.6 569.6,202.1 569.0,203.0 569.8,207.2 569.8,206.3 570.0,210.8 569.5,211.0 569.2,215.5 569.3,216.2 569.9,219.2 570.5,219.4 570.0,223.0 570.0,220.2 569.6,219.6 570.1,215.6 570.4,215.2 570.5,211.5 569.7,210.6 570.3,206.9 570.5,206.0 570.1,202.2 570.7,202.4 570.3,197.9 571.0,198.2 570.7,193.9 570.5,193.4 570.3,189.6 571.2,189.4 570.2,184.6 570.9,184.2 570.2,179.8 571.1,180.0 570.3,175.9 570.4,176.3 570.4,171.6 571.3,170.7 571.0,168.0 570.5,166.8 570.9,162.1 572.6,163.0 572.2,160.0 571.8,163.6 572.1,163.5 571.7,167.3 572.7,168.2 571.8,172.3 572.6,171.5 572.1,177.0 572.2,176.8 572.0,181.0 572.4,181.4 571.7,185.7 571.6,184.8 571.8,189.1 571.7,189.6 572.6,193.4 572.0,195.0 572.5,193.6 571.7,189.3 572.0,189.1 572.1,184.9 572.7,185.3 571.7,180.6 572.5,181.4 573.0,176.9 572.9,177.0 572.2,172.5 572.4,172.0 572.4,168.5 572.3,168.5 572.6,163.4 573.2,164.0 572.5,158.7 573.2,160.0 573.2,154.6 573.3,154.6 573.0,151.7 573.2,154.8 573.5,155.4 573.2,159.0 573.6,159.4 573.7,164.0 573.8,164.0 573.9,168.1 573.6,167.6 572.9,172.6 573.6,172.1 573.3,176.7 574.0,175.9 573.3,180.4 573.7,181.7 573.4,184.4 573.6,185.8 574.2,189.0 573.3,190.1 574.2,193.4 573.9,194.1 574.4,198.9 573.8,198.3 574.6,202.6 574.6,202.6 573.9,207.6 574.3,207.9 574.3,212.0 574.3,211.8 574.3,215.0 574.3,211.2 574.7,211.0 574.4,207.3 575.2,207.1 574.3,202.0 574.2,202.4 574.8,197.7 575.0,196.7 575.0,198.4 575.2,202.5 575.6,202.4 575.0,206.7 575.8,207.0 576.0,211.4 575.6,211.1 576.0,215.6 575.5,215.6 575.7,219.7 575.6,219.6 576.1,224.0 576.2,225.0 575.9,224.4 577.1,219.7 576.9,219.2 577.2,215.5 577.1,215.9 576.7,210.8 576.7,210.5 577.1,206.5 577.8,207.5 577.4,202.3 577.5,201.7 577.6,203.3 577.8,207.4 577.5,207.0 577.4,211.0 577.6,211.5 577.7,215.1 577.2,216.0 578.1,220.2 577.6,220.4 578.0,223.8 578.1,223.9 577.7,228.6 578.4,228.4 578.4,233.0 577.9,232.6 578.8,236.5 578.3,238.3 579.0,237.1 578.0,233.7 579.0,233.1 578.3,229.0 579.0,229.3 578.8,224.4 578.8,224.1 578.8,220.6 579.5,220.1 579.0,216.6 579.0,215.7 579.4,212.0 579.4,211.9 579.8,207.2 580.0,206.7 580.1,207.3 580.1,211.7 580.4,212.8 579.9,215.9 580.7,216.1 580.4,220.6 580.5,221.3 581.0,225.0 580.4,225.0 581.0,228.9 581.4,229.6 580.9,234.1 581.7,234.4 581.2,238.0 581.4,238.4 581.7,243.2 581.1,243.2 582.1,247.4 581.7,248.3 581.8,247.3 581.5,242.5 581.8,242.6 581.4,239.1 582.3,238.7 581.2,234.5 581.8,234.0 581.7,229.4 581.7,229.7 582.5,225.4 581.9,225.1 581.8,221.1 582.0,220.0 582.4,217.2 582.0,216.6 582.0,212.2 582.3,212.3 582.1,208.1 582.0,208.6 581.9,204.7 582.0,204.6 582.2,200.4 582.1,199.6 583.0,195.5 583.3,196.4 583.0,191.0 582.4,192.1 582.9,187.8 583.4,187.8 583.0,183.7 583.7,183.5 583.3,180.0 583.5,183.9 582.8,183.9 582.9,186.9 583.7,187.5 583.0,191.5 583.1,191.9 583.8,196.9 583.5,195.8 583.6,200.5 583.4,201.2 584.3,205.6 584.1,205.6 583.4,208.9 583.7,209.3 583.4,213.7 584.2,214.5 583.9,218.4 584.1,218.4 584.6,222.5 583.9,222.8 584.7,227.2 584.2,228.0 584.8,226.9 583.8,223.1 584.2,222.7 583.7,217.9 584.7,218.1 583.8,213.6 584.3,214.0 584.6,209.3 584.4,210.0 585.1,204.7 584.7,204.8 584.4,201.2 585.1,201.1 585.0,196.1 585.3,196.6 584.5,191.8 584.5,192.2 584.4,187.3 584.8,187.4 585.4,184.0 585.4,183.7 584.5,178.8 585.1,179.6 585.0,175.8 585.4,179.4 586.3,179.1 586.1,182.7 585.3,183.1 586.7,187.5 586.6,186.8 586.3,190.0 586.6,191.0 585.8,195.4 586.6,196.0 586.6,199.5 586.2,199.4 587.0,204.9 586.3,204.3 586.8,208.9 586.4,208.3 586.3,213.6 586.4,213.7 586.8,216.9 586.7,218.2 587.1,221.8 586.8,222.5 586.7,226.0 586.3,226.1 586.0,230.5 586.1,230.4 587.1,234.4 586.6,235.3 586.9,239.6 586.5,239.1 586.3,243.3 586.7,245.0 587.1,243.3 586.3,239.8 586.6,239.1 587.3,235.5 587.2,234.9 587.3,231.6 587.4,231.1 587.5,226.6 587.1,226.7 587.4,222.7 586.4,222.9 587.3,218.1 587.3,217.8 587.0,215.0 587.0,218.6 587.7,217.9 586.7,222.8 587.3,223.0 586.8,226.5 587.3,227.3 587.1,231.2 587.5,231.3 587.6,235.3 588.0,236.2 588.2,240.7 587.2,240.4 588.3,244.4 587.8,245.1 587.2,248.6 587.4,249.6 588.0,253.4 588.5,253.5 587.8,258.2 588.2,258.1 588.5,262.3 588.0,262.4 587.9,267.0 587.9,266.4 588.3,270.0 587.8,267.6 588.4,266.3 588.4,263.3 588.8,262.7 588.7,258.1 589.1,258.5 588.8,255.0 587.9,254.0 589.1,250.4 588.6,249.3 588.5,245.4 588.7,246.1 588.0,242.1 588.3,241.9 588.2,237.0 588.4,237.7 588.8,233.5 589.4,232.9 588.8,230.0 589.5,232.7 590.1,231.6 588.9,238.3 590.0,238.3 589.9,241.0 590.1,241.6 591.0,246.5 591.2,246.1 590.9,249.9 591.1,250.7 590.8,255.3 590.8,255.6 590.8,258.8 591.5,259.3 591.1,263.7 591.7,265.0 591.9,263.9 591.7,259.9 591.3,259.1 591.9,256.1 592.4,255.2 592.5,251.9 591.7,251.3 592.1,247.6 592.6,246.8 592.6,242.8 592.4,243.0 592.5,240.0 593.6,243.9 592.3,243.6 592.4,247.6 592.6,246.8 593.6,251.8 594.0,250.5 594.2,255.0 594.0,256.6 594.2,259.9 595.2,260.2 594.7,264.0 594.4,265.2 595.5,268.8 594.8,268.8 594.8,272.8 595.3,273.7 596.0,277.3 595.8,278.3 596.0,276.6 596.3,273.2 596.5,272.3 596.9,269.4 596.2,268.3 596.4,265.0 597.1,264.8 596.8,260.5 597.4,259.6 597.2,255.8 597.4,255.2 597.1,251.6 598.5,251.9 598.0,248.3 597.6,251.3 598.2,251.9 598.5,255.4 598.8,256.0 599.0,260.0 598.6,260.3 598.7,263.3 599.0,263.9 599.0,268.5 598.4,268.0 599.5,271.6 599.2,273.3 599.2,276.0 600.2,275.6 600.1,281.4 600.8,281.7 600.7,285.6 600.8,283.6 601.3,288.4 600.8,288.2 602.6,293.7 601.4,292.1 602.7,296.9 602.5,298.3 602.5,301.5 602.1,302.5 602.7,306.2 603.7,306.6 603.7,310.6 603.3,311.7 604.7,314.3 605.3,310.5 604.2,313.3 605.3,314.0 604.0,318.8 604.8,318.5 604.7,323.0 605.4,322.9 604.9,327.1 605.6,326.8 605.8,330.0 606.6,327.5 606.6,328.4 607.7,323.4 608.1,326.2 606.8,320.0 608.0,323.0 608.3,320.0 608.2,323.0 609.5,322.0 609.3,327.4 609.1,326.4 609.8,330.4 610.1,329.7 610.8,333.3 611.3,335.0 610.8,338.6 611.5,338.8 611.7,342.8 611.4,343.7 611.7,346.4 612.6,347.6 612.4,351.6 612.8,352.1 612.4,355.1 613.1,355.9 612.9,359.6 612.8,360.5 613.3,363.3 613.7,360.1 613.9,360.1 613.5,356.2 613.5,355.9 613.4,352.2 613.6,351.6 614.4,347.7 614.5,347.3 614.1,343.6 614.6,342.5 613.9,338.6 614.4,338.2 614.7,334.9 614.7,333.3 614.2,330.5 614.7,329.3 614.8,325.9 614.9,325.8 615.4,322.3 614.7,321.5 615.5,317.9 615.1,317.5 616.1,313.7 615.8,313.0 615.8,310.0 615.6,312.7 615.8,312.9 616.6,318.0 615.8,318.1 616.3,322.3 616.6,321.4 616.3,327.7 616.8,325.9 617.5,330.0 617.3,330.7 617.9,334.7 619.1,334.5 618.3,340.0 619.0,338.4 618.4,343.6 619.1,343.2 620.0,346.7 621.2,344.9 620.9,349.6 622.0,348.0 620.7,351.9 621.6,347.4 620.9,352.6 622.5,351.7 622.2,349.7 622.1,346.9 622.5,345.7 622.7,342.3 623.0,341.3 623.4,337.9 622.9,336.9 622.8,332.8 622.6,332.8 622.9,328.8 623.2,328.0 622.9,324.6 623.8,323.4 622.8,319.6 623.3,318.3 623.5,319.9 623.3,323.8 623.5,324.2 624.4,327.7 623.8,328.8 624.3,332.3 624.1,332.9 624.0,336.8 624.4,336.9 624.5,341.1 624.1,341.9 625.4,345.4 625.0,346.7 625.9,350.1 625.6,349.0 625.1,353.7 627.0,352.2 627.2,355.9 627.5,355.7 627.5,358.3 627.9,358.2 628.4,361.6 628.5,360.0 627.8,364.3 629.8,362.5 630.0,367.8 630.0,366.7 630.6,368.7 630.5,366.2 631.3,371.7 631.0,369.0 633.2,373.7 632.6,371.6 632.5,373.3 633.0,370.8 634.0,371.0 633.9,366.3 634.5,365.7 634.8,361.7 633.4,362.6 634.6,357.1 635.0,356.7 635.6,357.8 636.2,362.0 636.5,362.7 634.9,366.8 635.2,367.6 636.5,371.0 635.8,371.9 636.7,375.0 636.4,373.2 638.6,378.8 639.2,375.7 639.0,379.0 639.8,376.3 639.5,380.3 639.2,380.0 638.3,383.4 640.1,380.1 641.4,383.7 641.2,382.3 641.8,386.3 640.4,383.2 641.7,386.7 641.6,383.2 643.1,383.3 643.2,379.6 642.6,379.2 644.5,375.6 643.9,375.6 643.3,370.9 645.1,372.1 645.0,368.3 645.0,370.9 645.1,371.9 645.6,375.6 645.6,376.8 646.2,380.1 645.9,380.7 645.6,384.7 646.0,385.2 646.3,388.3 645.4,388.6 647.4,392.6 646.9,390.8 646.8,395.3 646.5,393.2 648.3,396.7 647.9,395.5 649.2,400.3 649.7,398.8 650.6,401.6 651.2,399.4 651.0,404.5 650.8,403.3 650.9,402.4 652.2,398.4 650.6,397.8 651.6,394.2 651.2,394.2 651.8,389.9 652.2,388.3 651.8,389.3 652.1,393.6 653.1,393.8 653.4,398.4 652.6,397.4 653.3,401.6 654.2,403.3 655.4,405.4 655.0,403.4 656.1,405.9 656.3,404.3 656.2,407.5 656.0,404.8 656.7,406.7 655.8,405.7 658.0,408.9 657.9,406.9 656.9,411.7 659.6,409.7 658.1,411.6 659.2,411.7 658.8,413.3 659.9,412.6 659.7,415.9 660.2,413.5 661.7,417.1 660.5,416.9 661.7,418.3 661.7,419.5 662.8,423.0 663.7,422.7 662.1,426.3 663.2,425.1 663.7,428.3 663.7,425.9 663.1,427.7 664.8,422.9 664.9,424.7 666.4,420.0 665.8,420.0 665.2,417.6 667.7,418.9 667.4,414.9 667.1,416.8 666.8,412.5 669.0,413.5 668.3,411.7 668.3,412.9 670.4,409.3 669.8,410.5 670.8,406.5 669.0,408.0 671.1,404.0 670.8,405.0 670.4,401.7 671.6,402.1 670.4,397.8 671.3,397.8 671.5,394.0 672.4,393.2 672.9,389.6 672.5,388.3 672.6,385.2 672.1,384.8 672.1,380.8 672.1,380.5 672.6,377.1 672.7,376.0 672.8,372.8 673.0,371.5 673.6,368.2 673.0,367.1 673.7,364.0 673.4,363.3 673.1,359.2 673.3,358.0 673.1,355.4 672.9,354.2 674.1,350.9 673.6,350.1 673.5,346.5 673.9,345.3 674.6,341.3 673.8,341.0 674.2,338.0 674.1,336.1 674.2,332.5 674.1,332.4 674.6,329.1 675.0,327.6 674.2,324.1 673.9,323.6 674.1,320.0 674.0,319.0 674.3,316.1 674.2,314.8 674.8,311.7 674.8,310.0 675.2,307.0 674.5,306.0 675.3,302.8 675.2,301.2 675.5,297.8 675.1,297.5 674.5,293.6 675.0,291.7 675.3,293.0 675.4,296.6 675.2,297.8 675.2,301.0 675.5,302.0 675.2,305.7 675.0,305.8 675.6,309.6 675.2,310.5 675.8,314.5 675.7,315.0 676.4,318.4 676.0,320.0 676.7,319.0 676.8,314.4 676.0,314.6 676.5,310.8 677.1,310.0 677.0,306.0 676.1,305.9 676.3,301.9 677.0,300.8 676.9,297.1 676.5,296.9 676.6,293.0 677.4,292.6 676.7,288.9 678.0,287.9 677.5,285.0 677.4,287.8 677.8,288.2 677.8,292.2 677.7,292.7 677.3,297.0 678.3,296.7 678.4,300.8 678.2,301.6 678.1,305.3 678.4,305.3 678.4,309.1 678.3,309.9 677.8,313.5 678.4,313.9 678.5,318.1 677.7,318.9 678.2,321.9 678.0,323.2 677.8,326.7 677.9,326.7 678.3,330.0 678.1,326.7 678.1,326.2 678.3,323.2 678.4,321.9 677.9,317.9 678.4,317.2 679.2,314.2 678.4,312.8 678.2,309.4 678.9,309.0 678.5,305.4 679.4,304.5 679.5,300.4 678.5,300.7 678.4,296.2 679.4,296.1 679.1,291.8 678.7,291.6 678.9,287.8 678.8,287.5 679.4,283.0 679.5,283.0 679.9,278.6 679.5,278.3 680.0,274.8 679.5,273.3 679.1,274.7 680.0,278.7 680.1,278.4 680.6,282.6 680.2,282.7 680.7,286.2 680.0,286.6 681.0,290.2 680.8,291.7 681.1,295.1 680.4,295.5 680.9,298.7 681.5,298.8 680.9,303.4 681.2,303.9 681.6,306.9 680.5,307.8 680.5,311.5 681.0,311.5 681.1,316.1 681.6,316.1 680.9,319.7 681.3,320.6 681.5,324.1 681.1,324.6 682.0,328.0 681.2,329.4 680.9,332.1 681.4,332.8 681.5,336.0 681.8,332.6 682.1,332.5 681.8,329.2 681.6,327.8 682.0,324.8 682.0,323.6 682.0,320.1 681.5,319.6 682.5,315.5 681.7,315.1 682.7,310.7 682.6,310.2 682.8,306.7 682.2,306.7 682.5,303.3 683.4,307.5 682.5,306.1 683.0,310.7 684.0,310.3 683.4,315.4 684.9,314.7 684.2,318.3 684.9,319.6 685.1,322.9 684.5,324.0 685.0,328.2 685.0,328.4 685.1,332.1 685.4,332.3 684.6,336.2 685.8,337.5 685.5,340.0 686.0,337.6 686.0,336.9 685.6,333.1 685.8,332.6 686.3,328.7 686.2,328.3 687.1,324.3 686.7,323.3 687.4,324.9 686.9,328.1 686.8,328.5 686.7,332.5 687.5,332.5 686.7,336.3 687.3,336.7 687.0,341.1 687.4,341.3 688.2,344.5 687.5,345.8 687.4,348.9 688.2,349.6 688.0,352.5 687.6,349.4 688.2,348.6 688.6,345.0 687.9,345.1 688.8,341.3 687.8,340.8 688.9,337.2 688.9,336.4 688.8,332.2 689.4,331.7 689.2,327.8 688.7,327.8 689.2,323.6 689.1,323.1 688.8,319.6 689.2,318.3 688.8,315.0 689.8,314.5 689.6,310.9 689.0,310.8 689.8,307.0 689.0,306.0 689.9,302.5 690.1,301.6 689.2,298.4 690.3,297.3 689.3,293.6 689.4,293.6 689.4,289.9 690.0,288.3 690.3,289.2 690.0,293.3 689.5,294.0 689.9,297.9 690.5,297.8 690.3,302.1 689.8,302.5 690.1,305.9 690.7,306.9 690.2,310.1 691.0,310.7 690.5,314.4 691.1,314.7 690.6,318.9 691.1,319.6 690.4,322.6 690.8,323.3 690.4,327.2 691.5,327.9 690.8,331.9 691.4,332.2 691.0,335.0 690.6,331.9 691.4,331.8 691.4,327.9 691.3,326.9 691.3,323.4 691.9,323.1 692.0,319.0 692.1,318.0 692.1,314.5 692.1,314.0 692.3,310.8 692.2,310.1 691.7,305.6 691.6,305.6 691.9,301.7 691.7,301.4 692.4,297.7 692.8,296.4 692.1,293.0 692.4,292.8 692.9,288.4 692.3,287.6 692.5,285.0 692.0,288.0 692.7,288.5 693.3,292.2 692.5,292.9 692.3,297.1 692.9,297.0 692.8,300.6 692.7,301.4 692.9,305.7 693.1,306.0 692.5,309.1 692.9,309.7 693.6,313.5 693.6,314.4 693.3,318.1 692.7,319.1 693.6,322.5 693.2,322.5 693.9,326.4 693.5,328.0 693.0,326.6 693.8,323.1 693.1,322.1 693.2,318.2 694.0,317.5 693.9,314.3 693.6,313.0 694.5,309.6 694.4,308.8 694.6,305.0 694.5,304.4 694.4,301.1 695.0,300.3 694.5,296.2 694.1,295.6 694.3,291.5 694.1,291.3 695.3,287.2 695.1,286.7 694.6,282.8 695.0,281.7 694.8,277.8 695.1,279.4 695.8,273.4 696.9,274.6 697.1,270.8 697.1,269.7 696.6,265.8 696.7,265.0 697.5,266.0 696.5,271.3 697.4,269.5 697.4,274.1 698.2,274.8 697.8,278.3 698.0,280.0 697.8,283.3 698.6,283.4 698.3,287.8 698.7,288.4 698.7,292.1 699.1,292.8 698.7,296.2 698.6,297.1 699.2,300.0 700.3,297.0 699.0,300.9 699.3,294.9 700.8,296.7 700.4,298.5 700.6,301.9 700.7,302.0 701.6,306.0 701.5,306.6 701.3,310.3 701.9,310.7 700.7,314.7 701.2,315.8 701.4,319.7 701.0,319.5 701.4,323.1 701.7,325.0 702.3,323.4 701.6,320.3 701.9,319.0 701.8,315.9 702.4,315.0 702.1,311.3 702.5,310.0 703.0,311.1 702.6,315.4 703.3,315.4 703.0,318.9 702.7,319.2 703.5,322.9 704.0,323.4 703.0,327.6 703.4,328.0 704.3,331.4 704.1,332.0 704.2,335.0 703.9,335.7 704.8,341.3 704.6,339.9 704.7,344.4 705.2,345.1 706.4,348.5 706.7,350.0 708.0,349.1 707.9,344.1 706.8,346.1 708.3,343.3 708.8,346.1 709.1,346.9 708.6,350.7 708.7,350.5 709.5,354.1 709.2,354.7 708.8,358.9 709.8,359.0 709.7,362.4 710.3,363.8 710.2,367.1 710.0,368.3 709.8,371.3 710.0,371.6 709.6,375.7 710.1,375.9 710.3,379.9 710.2,380.4 709.9,383.8 710.1,384.3 710.9,388.0 711.3,388.5 710.8,391.7 711.9,389.2 711.6,389.0 711.6,385.2 712.4,384.5 711.9,379.9 711.5,379.8 713.0,376.6 711.3,375.9 712.5,373.3 714.3,375.2 712.3,372.0 714.8,374.6 714.2,371.6 714.0,374.7 713.2,370.5 715.0,371.7 714.0,370.2 714.5,376.7 717.1,373.2 715.1,378.5 716.8,376.1 716.1,380.4 717.5,380.0 718.4,382.8 718.9,383.6 717.9,387.6 718.7,387.9 719.2,393.1 719.4,392.6 720.7,396.7 720.0,398.3 719.3,397.4 720.3,394.4 720.8,393.7 722.2,390.6 722.5,391.3 722.0,388.3 722.8,392.0 722.3,391.4 722.5,396.1 723.7,395.8 723.1,400.3 724.2,401.7 725.1,401.1 725.6,397.0 724.2,396.0 725.5,391.9 725.6,392.8 725.5,388.0 726.5,388.4 726.2,383.8 726.1,384.4 726.4,380.3 726.3,379.8 726.7,376.7 726.8,379.6 726.8,380.5 727.1,383.7 727.9,385.0 726.9,388.3 727.5,389.1 727.9,392.3 727.7,393.8 728.6,397.1 728.3,398.3 728.0,401.2 728.5,400.5 730.5,404.7 729.0,403.0 730.7,407.5 730.4,405.6 730.8,408.3 730.4,404.8 732.0,405.7 730.6,400.9 732.7,401.3 731.8,397.3 731.1,397.2 731.4,392.2 732.8,392.7 733.5,387.8 733.1,388.0 733.3,384.4 733.3,383.3 733.0,383.8 734.2,388.3 733.3,389.1 734.2,393.0 734.1,392.9 733.8,398.0 734.3,397.2 735.8,401.9 735.0,403.3 735.7,404.7 735.4,403.0 736.5,406.6 735.0,405.4 737.0,407.7 736.6,405.9 737.5,408.3 738.7,404.9 737.7,404.8 738.0,399.9 738.1,399.7 739.2,396.7 739.4,400.6 739.1,400.7 739.4,404.3 740.1,405.1 740.8,408.3 741.9,408.7 741.4,412.9 742.6,411.1 741.9,417.3 742.5,416.7 742.1,417.6 743.3,412.1 743.2,413.4 742.8,408.8 743.9,411.4 744.5,406.6 745.0,406.7 744.5,404.9 745.2,406.5 746.2,403.2 747.0,404.1 746.7,401.7 746.0,400.3 746.6,395.9 747.5,396.1 747.1,392.4 747.4,391.8 748.7,387.3 748.3,386.7 749.1,387.4 749.3,391.9 748.4,393.1 749.2,397.1 750.0,398.3 751.3,399.3 750.5,395.9 752.5,398.2 751.0,394.8 753.2,395.8 753.2,393.3 752.5,393.3 753.3,392.6 754.4,395.4 752.4,393.8 754.8,397.7 754.7,393.8 754.0,397.3 755.0,396.7 754.5,396.3 754.8,391.2 755.8,390.9 756.3,386.4 756.3,386.6 757.4,382.5 757.5,381.7 757.7,378.8 758.7,377.8 757.4,374.3 758.3,373.9 758.6,369.1 759.5,369.5 757.9,364.5 758.0,364.8 759.2,361.7 758.5,365.2 760.8,364.2 759.8,369.1 760.8,368.3 761.5,371.2 761.9,371.4 761.6,375.9 762.5,376.8 762.5,380.0 762.1,377.5 763.0,376.8 763.3,373.1 764.0,373.4 764.9,370.0 764.3,370.4 765.0,366.7 766.0,366.3 766.1,361.0 766.5,361.3 765.3,357.0 765.6,357.3 766.7,353.3 766.6,356.3 767.4,356.7 768.1,360.9 768.6,359.5 768.3,363.3 768.2,360.8 769.0,359.9 768.6,356.3 768.5,355.7 769.1,351.5 769.1,350.9 769.5,347.2 770.1,346.6 770.1,343.2 770.0,341.7 770.6,338.6 770.3,338.0 770.1,334.1 770.8,333.7 770.0,330.5 771.3,329.1 770.8,326.7 771.7,330.3 771.3,329.9 771.2,334.9 770.8,333.9 771.0,338.8 772.4,339.0 772.9,344.3 772.5,345.0 773.1,347.6 772.1,349.1 773.2,352.2 772.9,353.2 772.6,357.2 773.6,357.8 773.1,361.7 773.3,363.3 773.2,367.2 774.6,365.9 773.9,370.8 774.6,369.7 775.0,373.3 775.0,373.8 776.0,378.8 776.0,378.4 776.2,384.0 775.4,382.8 776.7,386.7 777.1,383.9 777.4,382.7 776.9,379.3 777.6,378.5 777.9,375.0 776.9,373.9 777.0,370.7 777.5,369.7 777.7,366.7 778.4,365.9 778.1,362.0 777.9,361.3 778.3,358.3 778.2,362.0 780.4,358.0 780.3,361.9 778.6,360.8 779.0,364.6 781.9,361.6 780.8,365.0 782.5,365.2 780.7,368.0 781.2,367.9 782.3,370.9 783.1,369.2 783.2,373.3 783.3,373.3 784.4,375.8 784.7,372.7 784.3,375.9 783.3,373.7 785.4,376.7 786.5,373.8 785.8,376.7 787.2,375.6 786.5,380.0 786.2,378.2 788.7,382.2 786.1,381.4 787.5,385.6 788.3,385.0 787.5,388.2 788.5,384.5 788.9,389.0 788.8,386.3 790.4,392.0 789.1,389.1 790.8,391.7 791.6,392.0 792.3,396.4 791.5,396.2 792.1,401.7 791.8,401.7 793.6,404.9 793.1,405.4 793.3,408.3 793.7,404.5 794.8,405.4 793.6,400.1 793.4,400.3 795.6,396.5 794.7,396.1 794.7,391.4 795.8,391.0 795.8,388.3 797.0,386.6 796.8,383.0 796.0,382.2 798.1,378.0 797.3,378.9 798.7,373.4 798.1,373.8 798.3,370.8 798.5,374.0 798.9,374.2 799.2,377.7 799.1,378.2 798.8,382.2 798.7,382.6 799.6,385.8 800.2,386.9 799.4,390.2 800.0,391.7 800.5,390.6 799.6,387.0 801.4,386.0 800.7,381.8 802.3,382.9 801.2,378.8 802.7,378.4 802.5,375.0 802.4,377.7 802.8,378.9 803.3,383.7 802.7,383.7 804.0,387.0 803.2,387.7 805.0,391.8 804.2,393.3 804.0,395.3 803.9,392.9 805.9,395.9 806.5,394.4 804.8,397.5 806.2,393.9 806.7,396.7 805.9,393.7 807.9,396.0 806.7,392.1 808.9,394.3 808.4,390.0 809.2,392.3 809.2,390.0 808.8,393.2 809.8,392.7 810.9,397.6 809.8,397.9 810.6,402.1 810.0,401.6 810.8,405.0 812.7,402.3 812.8,403.5 812.3,398.5 811.3,400.5 814.0,397.2 812.4,397.9 813.3,395.0 814.4,398.0 815.3,395.5 812.9,399.2 813.3,398.4 813.7,402.5 815.8,401.2 815.8,403.3 817.2,402.4 817.9,405.3 817.3,402.9 816.6,406.8 816.2,404.2 817.5,407.8 818.4,405.4 818.2,408.0 819.2,406.7 820.5,407.9 820.8,406.4 820.3,409.4 820.4,406.2 822.2,411.3 822.1,407.7 821.7,410.0 821.0,408.3 823.4,409.6 823.2,405.6 822.5,407.9 823.6,403.9 823.4,404.5 823.0,399.8 825.8,403.2 825.0,400.0 823.9,402.5 824.5,400.4 827.0,405.6 827.3,404.0 825.3,406.6 828.2,405.0 827.5,408.3 827.9,408.1 829.3,410.4 828.0,410.0 830.4,412.4 830.1,409.8 829.9,415.0 830.0,413.3 831.2,416.5 832.1,414.6 831.8,417.1 830.9,416.0 833.3,418.7 831.9,418.3 832.5,420.0 834.4,419.5 833.8,423.3 834.4,421.7 833.7,425.5 834.9,422.5 834.1,427.6 835.8,424.9 835.2,428.9 835.8,428.3 834.9,430.2 836.0,430.1 835.5,433.8 837.9,431.7 836.7,436.3 839.0,434.2 837.5,438.5 838.7,438.3 838.7,436.5 838.5,433.1 839.3,432.7 838.8,429.3 839.4,427.7 839.2,424.7 839.6,424.1 839.8,420.3 840.0,419.7 840.0,416.7 839.9,414.9 841.4,411.1 839.9,410.9 840.3,407.1 840.3,406.6 841.3,403.8 841.0,403.0 841.7,400.0 841.4,402.3 841.9,403.1 842.4,406.6 842.8,406.8 842.5,411.0 844.3,410.4 844.2,413.3 843.5,414.6 845.8,418.1 844.7,417.6 846.5,421.4 846.0,421.8 845.5,425.5 846.7,426.7 847.5,429.6 847.9,427.6 847.5,431.0 848.3,431.7 847.2,432.7 850.2,427.7 848.2,430.8 848.8,426.9 849.3,429.1 851.5,424.1 850.6,427.4 850.6,422.7 851.7,423.3 852.6,423.8 852.1,426.8 853.7,426.8 852.0,430.0 853.9,428.8 853.9,433.9 854.2,433.3 855.3,435.1 855.0,434.5 854.5,436.9 854.4,436.1 857.1,439.7 855.1,438.2 856.7,440.0 857.3,439.4 856.0,442.1 858.0,440.8 856.9,444.8 857.8,442.3 859.0,445.5 860.6,444.2 859.5,447.4 861.1,444.7 861.2,448.9 860.8,448.3 861.8,448.4 862.9,443.3 862.7,444.8 862.4,441.4 861.8,443.0 862.1,438.0 863.3,438.3 863.6,435.2 864.3,435.1 865.2,430.1 865.1,430.1 865.1,426.3 865.0,425.0 866.2,422.0 865.3,421.2 865.8,417.7 865.7,417.1 866.4,414.2 866.7,412.5 866.2,413.6 866.8,417.6 867.4,417.7 866.8,421.0 868.0,421.1 867.6,425.5 868.3,426.7 868.1,430.2 869.0,428.1 867.9,432.4 868.8,432.2 869.8,436.1 871.8,435.4 870.8,438.3 871.4,435.0 872.0,437.6 872.9,433.9 870.9,436.0 872.8,431.2 871.8,433.4 873.1,428.9 873.2,431.5 874.2,428.3 874.3,430.9 875.7,431.5 874.8,435.0 876.6,435.5 875.4,439.2 875.5,439.0 876.7,441.7 877.5,438.4 877.8,437.9 878.2,434.5 878.3,434.0 878.7,430.1 877.6,429.4 878.3,426.7 878.6,425.6 878.0,421.3 879.5,423.7 878.6,418.6 880.0,418.3 880.1,415.7 879.9,415.7 881.1,411.1 881.1,411.5 882.0,406.8 880.3,407.4 880.8,403.1 881.7,401.7 881.4,399.0 882.0,398.1 882.0,395.1 882.4,394.0 882.0,390.4 882.9,390.2 883.1,386.8 882.4,385.6 882.4,382.1 883.3,381.2 882.9,377.7 883.0,376.7 883.6,378.2 882.8,381.5 883.4,382.0 883.2,385.5 884.3,386.9 884.0,389.5 884.3,390.7 884.7,393.8 884.8,395.0 883.8,397.8 884.0,399.1 884.7,401.7 885.4,403.3 885.2,406.1 885.1,407.3 884.7,410.7 885.3,411.6 885.9,414.9 885.2,415.9 885.8,418.3 885.1,419.7 886.5,424.1 887.4,423.1 885.9,428.0 887.4,427.8 888.1,431.9 886.5,432.3 887.5,435.0 886.9,431.8 888.2,432.2 887.1,428.4 889.3,427.3 888.0,423.1 887.9,423.9 889.8,419.4 889.4,418.7 889.6,415.1 890.2,415.2 889.0,411.4 890.0,410.0 890.6,407.3 889.8,406.1 891.6,402.0 890.9,402.5 891.7,397.9 892.0,397.8 891.9,393.0 892.5,391.7 892.9,392.2 893.2,396.8 893.2,397.6 893.2,401.9 892.4,401.8 893.2,406.2 894.5,406.3 894.3,410.2 894.2,411.7 893.8,414.6 895.0,413.7 896.1,417.4 895.2,416.5 897.0,421.0 897.7,419.3 896.7,421.7 895.8,421.0 896.0,425.6 898.3,423.4 898.0,427.2 897.5,425.3 899.7,429.1 899.2,428.3 899.7,430.9 899.2,432.0 899.2,436.0 900.6,435.6 900.8,439.2 901.3,436.1 901.4,438.4 901.2,434.7 903.5,436.2 901.1,432.8 902.0,434.3 903.3,431.7 903.6,430.5 904.7,426.1 903.2,425.6 904.7,421.9 904.9,421.8 903.8,417.8 905.8,417.6 904.3,413.8 906.4,413.2 905.8,410.0 905.3,409.2 907.1,404.3 906.7,405.2 905.8,400.7 907.5,400.4 906.3,395.9 907.7,395.8 907.5,393.3 907.0,392.0 909.3,387.0 908.7,385.8 909.3,387.6 909.1,390.4 908.9,391.9 909.2,394.6 909.6,395.7 910.1,399.5 909.2,399.8 909.9,403.9 910.0,405.0 910.3,407.6 911.1,408.7 912.1,412.5 912.3,412.6 911.4,416.9 912.6,416.9 912.5,420.0 912.2,420.1 913.9,423.5 912.5,422.6 914.4,425.8 913.6,424.3 913.9,429.8 915.0,429.2 914.8,427.5 915.3,423.5 916.1,423.2 916.2,419.5 915.9,419.7 916.2,415.8 916.7,414.8 916.1,410.7 916.7,410.0 917.2,407.0 917.8,407.0 917.4,402.9 917.0,402.8 918.3,400.0 917.3,401.8 920.2,396.8 918.3,400.1 919.1,395.0 920.5,398.2 921.2,394.7 920.8,395.0 922.2,393.9 922.3,398.1 921.1,395.1 921.8,397.5 923.7,395.5 922.9,399.4 923.3,398.3 924.3,396.5 923.4,392.4 924.0,392.5 923.6,388.5 924.7,387.7 925.5,382.9 925.8,383.1 925.0,380.0 925.4,382.4 925.3,382.6 926.0,387.5 927.1,385.4 926.7,388.3 926.4,387.1 926.2,393.0 929.0,391.4 928.3,393.3 929.4,394.0 928.4,398.3 929.1,398.2 929.8,402.9 929.2,403.3 929.1,401.4 929.8,398.3 929.8,397.2 929.2,393.8 929.8,393.3 930.7,390.2 930.4,388.7 930.4,385.5 930.1,385.1 931.2,381.2 930.8,380.0 932.0,375.8 932.1,378.4 932.8,372.8 932.5,375.3 932.5,371.7 932.3,369.9 932.6,366.0 933.3,365.2 933.8,362.1 933.3,360.0 932.7,356.9 933.0,357.5 933.9,352.3 935.2,352.4 935.0,347.8 935.0,346.7 935.2,342.9 935.0,346.5 936.0,342.8 935.3,344.5 936.7,341.7 937.2,344.5 936.4,344.7 936.6,349.0 936.7,349.2 936.9,352.6 937.4,353.2 937.6,356.9 937.6,357.6 937.6,361.6 937.6,362.2 938.2,365.2 938.3,366.7 939.0,364.9 939.0,361.3 939.8,360.9 938.9,356.9 939.3,356.4 939.8,352.3 940.1,352.0 939.7,347.6 940.0,346.7 940.4,343.7 940.1,342.9 939.8,340.0 940.0,338.8 940.7,335.7 941.1,334.7 940.4,331.7 940.8,330.0 940.4,326.1 941.6,326.2 942.5,321.4 942.0,322.1 942.5,318.3 942.8,316.9 942.1,313.3 943.3,312.5 943.0,309.3 943.2,308.7 942.8,304.7 943.1,303.7 942.8,300.6 943.5,299.7 943.3,296.7 944.0,300.1 944.1,299.6 944.2,303.2 943.4,303.7 944.5,308.0 944.3,308.5 944.2,311.7 944.5,312.8 944.1,316.6 944.8,316.4 944.6,320.5 945.0,321.7 944.7,322.7 944.8,316.1 946.2,318.1 945.1,313.1 946.7,313.3 947.0,309.2 946.6,309.6 947.1,304.8 947.2,306.0 947.1,301.6 948.3,300.0 949.1,296.6 948.2,297.3 950.2,292.8 949.8,293.2 950.0,290.0 950.1,288.2 950.6,284.9 950.0,284.3 949.9,280.3 950.7,280.3 950.5,276.6 950.1,275.7 950.5,273.3 950.9,271.6 950.8,268.6 950.2,267.1 951.1,263.4 951.6,263.3 951.1,259.7 951.8,258.7 951.8,255.2 951.8,254.2 951.1,250.3 951.1,249.9 951.7,246.7 951.3,246.5 951.5,240.5 952.6,242.3 953.6,237.0 953.2,237.3 953.9,231.6 953.3,231.7 954.4,228.5 953.3,233.8 955.7,226.1 954.2,232.2 955.0,228.3 955.3,231.9 955.6,231.8 955.1,236.2 955.6,236.1 955.9,239.6 954.9,240.6 955.1,245.0 955.2,244.5 955.5,248.5 956.2,249.1 955.9,253.5 956.1,253.2 956.2,257.8 956.2,258.2 956.6,261.6 956.7,262.0 956.9,266.5 956.4,267.4 956.7,270.0 956.3,266.9 957.4,266.9 956.6,262.3 957.5,262.1 957.7,258.5 957.1,257.8 957.7,253.8 957.3,253.8 957.5,249.5 957.4,249.0 958.1,245.2 958.1,244.7 957.4,240.1 957.8,240.4 958.8,236.6 958.3,235.0 957.6,231.8 958.0,232.7 959.0,227.5 958.7,227.5 958.7,222.4 960.4,222.8 959.2,217.2 960.0,216.7 959.4,217.1 960.7,221.6 960.7,221.7 961.4,226.8 961.9,225.3 960.6,230.1 961.9,229.0 961.7,233.3 961.2,234.7 961.6,238.6 962.4,239.0 962.4,243.4 961.9,243.3 962.1,247.5 962.4,247.7 962.0,252.4 962.5,253.3 962.2,256.1 963.2,256.1 962.7,261.1 962.4,260.4 962.7,264.2 963.6,265.5 963.7,268.4 963.0,269.6 963.1,273.2 963.5,273.4 963.8,278.0 964.4,278.3 964.6,282.2 964.2,283.0 964.4,281.7 964.0,278.1 964.1,277.1 964.7,273.8 965.0,273.3 965.2,269.8 965.3,268.9 965.1,265.3 965.3,264.6 965.4,260.7 964.8,260.2 965.6,257.1 965.6,256.2 965.8,252.4 965.6,251.8 966.0,248.4 965.8,246.7 966.1,247.7 966.6,251.9 966.1,252.0 967.9,256.2 968.2,255.1 967.2,260.7 967.0,258.9 968.3,263.3 968.5,265.0 968.4,268.4 968.6,269.0 968.9,272.8 967.8,272.7 968.9,276.7 968.7,276.9 968.9,280.6 968.9,281.8 968.8,285.6 968.4,285.3 968.9,290.1 969.1,290.0 968.5,293.0 969.2,289.1 968.7,290.1 969.1,285.6 968.8,286.4 970.2,280.4 969.7,280.0 970.0,277.0 970.0,276.8 969.3,272.8 970.6,272.0 970.1,269.0 969.9,268.5 969.7,263.9 970.8,264.3 970.2,259.5 970.4,259.6 971.2,255.6 971.0,254.9 970.2,251.7 970.4,251.5 970.7,246.6 971.3,246.5 971.5,243.1 971.3,241.7 971.6,243.3 972.5,248.4 972.2,246.7 972.0,251.6 972.2,251.2 972.9,256.2 972.5,256.3 973.3,260.0 972.8,261.8 973.4,264.7 974.0,266.0 973.9,269.8 973.4,269.8 974.3,273.9 973.6,273.6 973.5,278.5 973.6,278.5 973.7,282.5 974.5,282.5 973.7,287.1 974.4,287.0 974.2,290.0 974.8,287.5 974.6,286.9 974.9,282.5 974.1,282.3 974.5,278.3 974.8,277.9 975.0,275.0 975.1,278.1 975.6,278.7 974.9,281.9 974.7,282.3 975.8,286.1 975.2,286.6 975.9,291.4 976.1,291.5 975.0,294.8 975.6,296.1 975.3,299.4 975.9,300.3 975.3,303.5 975.8,305.0 975.5,303.2 975.6,299.5 976.8,298.7 976.9,295.0 976.8,294.6 977.2,291.4 976.4,290.9 976.8,286.1 977.7,285.5 977.5,283.0 977.1,281.9 977.3,277.7 978.0,277.2 977.9,274.0 978.5,273.5 978.4,269.3 977.7,269.6 978.7,265.2 978.6,264.9 978.9,261.0 978.4,260.7 978.5,257.4 979.0,256.9 979.3,252.9 979.2,252.4 979.4,248.4 979.4,248.3 980.0,244.1 979.9,244.1 979.7,240.8 979.1,244.1 979.8,244.1 980.4,248.7 981.7,247.9 980.6,254.1 982.0,253.6 981.3,256.7 981.6,257.4 981.3,262.4 982.0,262.6 981.2,266.6 981.7,266.9 981.8,270.9 982.4,270.6 982.4,274.6 982.0,276.0 981.8,279.1 981.9,279.8 981.9,283.8 982.5,285.0 982.5,283.5 982.9,280.2 982.1,280.0 983.1,275.4 982.6,275.2 983.1,272.0 983.6,271.5 983.1,268.0 982.8,267.0 983.8,263.7 983.3,262.5 983.3,260.0 983.9,263.3 983.8,263.1 983.1,267.1 982.9,267.7 983.0,271.3 983.2,271.6 984.0,275.7 984.3,276.8 983.3,280.1 984.2,281.2 984.2,284.6 984.3,285.2 983.4,288.5 984.3,289.4 984.4,292.9 983.9,294.0 984.2,296.7 984.7,293.4 983.9,293.3 983.9,289.2 984.2,288.9 984.9,284.5 984.4,283.7 985.0,280.1 984.3,280.2 985.0,276.7 985.5,279.5 985.1,280.0 985.7,284.2 985.2,284.2 985.2,287.8 985.3,288.9 985.1,292.5 985.0,293.3 985.7,297.3 985.4,297.0 985.0,301.2 985.9,301.4 985.5,305.1 986.2,305.9 985.9,309.6 985.3,310.3 985.8,313.3 985.8,314.2 986.2,318.5 986.2,318.5 985.8,322.9 986.5,322.9 986.1,326.2 986.8,326.9 986.7,330.0 987.2,331.2 987.1,335.9 987.6,334.3 986.6,340.0 986.7,339.0 988.0,343.1 987.9,343.1 988.3,346.7 989.4,348.5 989.0,353.0 988.5,351.8 990.6,356.9 990.0,358.3 989.7,356.6 990.1,352.6 991.5,353.2 991.5,347.1 991.7,346.7 991.8,347.5 991.1,352.2 991.3,352.7 993.2,356.1 992.4,356.6 993.0,360.0 993.2,362.0 992.9,365.4 993.4,366.5 993.7,369.6 994.5,371.0 993.6,373.8 994.2,375.8 994.3,374.7 994.7,371.0 994.4,369.6 995.0,366.0 994.6,365.1 994.5,361.6 994.5,360.9 994.2,357.3 995.4,356.3 994.8,352.5 995.3,352.1 994.8,348.0 995.0,346.7 994.8,343.8 994.7,343.0 995.0,339.9 995.9,338.6 996.2,335.9 996.4,335.4 996.1,331.0 996.7,330.7 996.7,327.7 996.8,326.8 996.9,323.4 996.7,321.7 996.1,318.2 997.4,319.0 996.7,313.8 998.6,314.0 998.5,308.8 998.4,310.1 998.3,306.7 998.3,309.6 998.1,310.6 998.4,313.6 999.3,314.6 999.4,318.3 999.6,318.4 999.2,321.7 999.6,323.2 999.2,327.0 999.5,327.3 999.3,331.5 999.9,332.1 1000.3,336.3 1001.1,336.7 1001.2,340.7 1000.8,341.7 1001.0,340.3 1000.7,336.3 1001.2,336.2 1001.9,332.1 1001.7,331.6 1001.1,327.9 1001.2,326.8 1002.5,323.6 1001.5,322.7 1001.6,319.0 1001.9,318.2 1002.5,314.3 1002.5,313.3 1002.0,310.1 1002.8,309.8 1002.6,306.5 1002.6,305.5 1002.7,301.2 1002.8,301.5 1003.5,297.0 1003.1,296.8 1003.7,293.5 1003.3,291.7 1002.9,293.5 1003.7,297.6 1004.9,296.4 1004.0,302.2 1003.5,301.3 1004.6,306.2 1005.6,307.2 1005.0,310.0 1004.6,310.8 1006.5,314.9 1005.1,314.4 1005.5,320.4 1005.1,319.6 1005.9,324.4 1005.7,323.0 1006.7,326.7 1007.9,322.5 1008.1,323.0 1007.9,319.6 1008.3,318.3 1008.0,319.9 1008.9,323.3 1008.3,324.0 1008.3,327.8 1009.3,328.0 1009.7,332.0 1008.9,332.4 1009.0,335.8 1009.7,336.3 1010.1,339.9 1009.6,340.3 1010.0,343.3 1011.2,344.8 1010.5,348.0 1011.2,348.3 1011.7,352.9 1012.2,352.1 1011.7,357.4 1011.7,357.5 1012.7,356.3 1011.5,351.3 1011.7,352.9 1013.9,347.4 1013.3,346.7 1014.5,343.2 1014.2,343.9 1013.4,339.9 1014.7,339.5 1013.6,334.9 1014.1,335.0 1015.6,330.6 1015.0,330.0 1015.8,326.0 1015.4,326.8 1015.7,322.3 1016.7,323.1 1016.0,317.3 1016.7,316.7 1016.5,314.2 1017.2,313.3 1016.9,308.6 1017.5,308.3 1017.7,304.3 1017.0,304.5 1017.5,300.4 1017.6,299.5 1017.9,295.9 1018.0,294.2 1017.6,295.4 1018.5,299.5 1018.3,299.4 1017.9,303.1 1018.1,303.9 1018.8,307.4 1019.0,308.8 1018.5,312.5 1019.2,313.3 1020.2,315.9 1019.9,316.2 1019.9,321.4 1020.3,319.6 1020.6,325.7 1019.6,324.0 1020.2,329.9 1020.8,330.0 1021.3,329.1 1021.5,325.0 1021.3,324.6 1020.9,320.5 1021.7,320.2 1021.6,316.1 1022.3,315.5 1022.4,311.4 1022.2,311.3 1022.5,308.3 1022.7,312.3 1022.4,311.5 1022.9,316.1 1022.6,314.5 1023.6,320.4 1023.6,320.3 1023.7,324.3 1024.2,325.0 1023.6,325.0 1024.8,319.5 1023.9,319.4 1024.8,314.9 1024.7,315.6 1025.1,310.7 1025.8,310.0 1026.4,306.5 1026.8,307.3 1025.7,301.9 1026.7,303.2 1027.9,298.2 1028.0,298.0 1027.5,295.0 1027.8,293.3 1028.2,290.2 1027.9,289.8 1028.0,286.5 1028.3,285.0 1028.6,281.8 1027.9,281.3 1029.1,277.9 1028.4,277.3 1028.6,272.8 1029.4,272.4 1028.6,269.3 1029.0,268.3 1029.3,264.1 1029.2,263.3 1028.7,260.8 1028.8,259.7 1028.9,256.0 1029.2,255.9 1030.0,251.1 1029.3,251.5 1029.0,247.2 1030.0,247.5 1029.1,243.4 1030.1,243.0 1030.0,239.3 1029.7,237.5 1029.9,239.3 1030.1,243.1 1029.6,243.7 1030.1,247.7 1030.0,247.5 1029.7,251.7 1030.5,251.9 1029.6,256.3 1029.9,256.1 1029.8,260.2 1030.7,260.4 1030.6,264.2 1030.1,264.3 1030.8,268.9 1030.5,268.6 1030.8,273.4 1030.4,273.5 1029.7,277.3 1030.2,278.2 1031.0,281.3 1031.0,282.5 1030.5,285.0 1030.4,281.6 1030.8,281.6 1030.6,278.0 1031.1,277.3 1030.7,273.0 1031.2,272.5 1030.8,268.6 1031.2,268.4 1030.8,263.8 1030.9,263.9 1030.9,259.2 1031.7,259.6 1031.0,255.4 1031.2,254.9 1031.3,251.7 1030.7,254.9 1031.9,255.7 1031.8,259.3 1032.0,259.3 1031.7,263.9 1031.3,264.5 1031.9,268.4 1031.7,268.8 1031.4,272.4 1031.3,272.8 1031.4,277.3 1031.7,276.7 1032.0,280.8 1031.9,281.8 1031.7,285.6 1031.9,286.3 1031.8,289.8 1031.9,290.5 1031.8,294.9 1031.3,295.4 1032.1,298.7 1031.8,298.9 1032.2,303.0 1032.3,303.8 1031.7,306.7 1032.0,303.4 1031.6,303.2 1031.7,299.7 1031.8,299.5 1031.4,294.8 1032.3,295.0 1032.2,291.4 1032.4,291.1 1031.9,286.9 1031.8,286.2 1032.6,282.5 1032.1,282.4 1031.9,279.0 1032.1,278.2 1031.9,274.2 1032.2,273.6 1032.7,270.2 1032.8,270.0 1032.5,266.7 1032.5,264.8 1033.2,261.3 1033.0,261.1 1033.1,256.4 1032.5,257.0 1033.4,252.6 1033.9,252.5 1033.7,248.6 1033.7,246.7 1033.9,248.1 1033.9,252.3 1033.4,251.9 1033.6,256.0 1033.3,257.1 1033.6,260.6 1034.5,261.4 1033.8,264.8 1034.2,265.5 1034.3,268.8 1033.6,269.6 1034.5,273.1 1033.7,273.8 1033.7,278.4 1034.5,278.7 1034.2,281.7 1033.9,282.8 1034.9,287.0 1034.8,286.8 1034.5,290.0 1034.7,287.0 1034.8,286.6 1034.5,282.4 1034.5,282.3 1035.0,278.0 1034.7,278.0 1034.8,274.6 1034.8,274.2 1034.6,270.1 1034.8,269.7 1035.5,266.2 1035.2,265.0 1035.5,261.3 1035.0,260.9 1035.1,257.5 1035.9,257.4 1035.9,253.1 1035.5,252.3 1035.6,248.2 1035.2,248.3 1035.4,244.1 1035.8,243.3 1035.6,239.6 1035.2,240.8 1036.4,234.5 1037.0,236.5 1036.2,231.1 1037.1,230.6 1038.0,225.7 1037.3,226.8 1037.5,223.3 1036.8,227.1 1038.4,226.8 1037.2,231.7 1038.2,229.7 1038.2,236.6 1039.4,235.0 1038.8,238.3 1038.9,239.4 1038.8,243.9 1039.2,243.5 1038.7,247.9 1039.1,248.1 1038.4,252.5 1039.0,252.9 1039.6,256.5 1039.5,256.5 1039.4,261.3 1038.7,261.4 1038.9,265.2 1039.0,266.0 1038.9,269.0 1039.5,269.9 1039.4,273.1 1039.5,275.0 1039.9,274.3 1039.3,271.1 1039.7,271.2 1040.8,268.3 1040.5,266.9 1040.6,262.7 1041.6,262.3 1040.7,258.0 1040.8,258.3 1041.8,254.1 1042.1,253.2 1042.0,249.1 1042.3,249.7 1041.9,245.2 1042.5,244.7 1041.9,241.3 1041.9,239.9 1042.9,236.5 1042.5,235.0 1042.5,231.4 1043.0,231.7 1042.5,228.0 1042.8,228.2 1043.2,223.0 1043.1,222.9 1044.1,220.0 1043.7,218.3 1044.1,219.4 1043.5,224.0 1043.7,223.2 1043.9,228.4 1044.4,228.3 1044.2,232.5 1044.1,233.1 1044.2,236.8 1043.6,237.3 1043.5,240.9 1043.6,240.7 1044.0,245.7 1044.5,245.5 1043.8,249.3 1044.4,249.3 1044.8,253.5 1044.3,255.0 1043.7,253.9 1044.6,249.6 1044.8,249.7 1044.6,245.0 1044.0,245.6 1044.7,241.5 1044.1,240.8 1044.3,236.1 1044.3,236.3 1044.6,231.7 1044.3,232.4 1044.9,227.8 1045.2,228.1 1045.0,223.5 1044.1,222.9 1044.9,219.6 1044.9,218.7 1044.6,214.4 1045.2,214.9 1044.8,210.4 1045.5,210.7 1045.0,206.6 1045.4,205.2 1044.5,201.5 1044.6,201.8 1045.0,198.3 1045.7,201.6 1046.5,200.2 1046.3,208.0 1047.0,206.1 1046.7,210.0 1047.2,210.6 1047.1,214.7 1046.7,215.2 1046.8,219.1 1046.9,220.2 1047.0,223.3 1047.4,224.4 1047.7,227.6 1047.4,228.2 1046.9,232.5 1047.4,232.5 1047.0,236.6 1047.9,236.8 1047.5,240.0 1047.2,237.1 1048.1,236.0 1047.6,232.5 1047.6,231.7 1047.2,227.8 1047.7,227.7 1047.7,224.5 1047.3,224.1 1048.2,219.9 1047.7,218.8 1047.7,215.2 1048.3,215.0 1048.5,210.2 1048.1,210.1 1047.6,206.3 1047.7,206.9 1047.6,202.8 1048.8,201.9 1048.3,197.7 1048.3,196.7 1047.9,198.1 1048.3,202.3 1048.9,201.9 1048.2,206.2 1049.2,206.9 1048.6,210.7 1049.5,211.3 1049.2,214.8 1049.1,214.6 1048.6,219.2 1049.0,219.0 1049.5,223.3 1048.9,223.3 1049.7,227.7 1049.8,227.3 1049.3,232.2 1050.1,232.5 1050.3,236.0 1050.4,236.4 1050.5,241.0 1050.0,241.7 1050.4,240.3 1050.0,236.4 1050.5,236.1 1050.6,232.6 1050.2,231.5 1049.8,228.2 1049.7,227.8 1050.4,223.8 1050.7,223.5 1050.6,219.9 1050.1,218.6 1050.0,214.6 1050.0,215.0 1050.3,210.6 1050.9,211.1 1051.1,205.9 1050.4,207.0 1050.9,202.6 1050.4,202.1 1051.1,198.5 1051.2,198.1 1050.8,193.8 1050.6,193.5 1051.0,189.5 1050.8,188.3 1051.3,186.0"/></defs><g fill="none" stroke="#fff" stroke-linejoin="round" stroke-linecap="round"><use href="#sp" stroke-width="3.8" stroke-opacity="0.42"/><path d="M65.8,315.0 66.6,339.8 67.1,296.4 67.8,335.0 68.9,302.4 69.6,330.7 70.5,294.8 71.2,326.9 71.7,294.2 72.5,323.2 72.7,286.8" stroke-width="1.4" stroke-opacity="0.75"/><path d="M77.7,324.3 78.7,341.3 79.3,321.9 80.4,350.7 81.0,315.5 82.0,342.9 82.8,299.1 83.8,355.7 84.2,313.5 84.7,342.0 86.0,320.6 85.9,343.6 87.0,317.2 87.6,350.7" stroke-width="1.4" stroke-opacity="0.75"/><path d="M564.3,221.7 564.4,231.4 565.3,215.2 566.0,224.8 566.8,206.3 567.7,220.8 568.7,197.4 568.9,216.6 569.8,200.4 570.8,217.5 571.4,199.0 571.9,221.3 572.7,200.6 573.5,216.3 574.2,203.5 574.7,220.8 575.2,208.3 576.5,225.8 577.4,208.6 577.8,232.9 579.0,217.8 579.8,239.9 581.0,211.7 581.7,247.2 581.9,208.1 582.5,248.6 583.5,206.7 584.1,248.2 584.4,198.5 585.8,237.1 586.8,212.8 587.6,255.0 588.2,231.6 588.8,257.1 589.0,238.9 589.8,262.7" stroke-width="1.4" stroke-opacity="0.75"/><path d="M674.6,333.7 675.5,342.1 676.3,307.0 676.8,329.0 678.0,293.6 678.6,333.4 678.8,281.7 679.8,323.3 680.6,288.2 681.3,328.5 682.0,308.2 682.7,328.5 683.7,315.6 684.2,330.2" stroke-width="1.4" stroke-opacity="0.75"/><path d="M689.3,325.6 690.4,331.4 690.7,305.1 691.7,321.4 692.7,294.3 693.2,325.5 694.5,296.0 695.2,322.6 695.6,283.8 696.4,309.0 697.0,278.3 697.4,311.5 698.3,302.7 699.0,320.8 700.1,309.3 700.8,326.8 701.6,309.4 702.1,333.0 703.2,318.4 704.1,339.6 705.0,337.0" stroke-width="1.4" stroke-opacity="0.75"/><path d="M952.1,254.3 953.0,269.6 953.6,244.1 954.7,269.0 955.2,240.2 956.1,259.4 956.8,231.3 957.3,269.4 957.9,236.9 958.8,263.1 959.6,233.1 959.9,262.3 961.1,237.5 962.2,275.4 963.2,247.3 963.6,278.8 963.8,247.8 964.8,275.6 965.9,251.1 966.2,275.7 967.3,250.0 967.9,278.2 968.6,248.5 969.3,287.2 969.7,247.3 970.8,280.7 971.3,248.0 972.0,282.5 973.3,259.8 973.7,290.4 974.7,262.1 975.3,294.8 976.4,272.5 977.0,297.4 977.7,256.3 978.6,290.6 979.8,247.5 980.2,281.4 980.7,258.5 981.3,279.2 982.3,258.6 982.6,288.2 983.4,268.7 984.3,290.8 985.4,283.4 985.9,312.0" stroke-width="1.4" stroke-opacity="0.75"/><path d="M1028.7,287.5 1029.4,283.8 1030.1,249.8 1030.4,287.7 1031.5,256.1 1032.1,282.8 1033.0,257.9 1034.0,292.2 1034.8,249.9 1035.1,278.2 1036.0,238.2 1036.9,275.3 1038.0,233.1 1038.6,263.9 1039.1,232.7 1039.7,273.6 1040.1,240.1 1041.2,256.1 1041.4,243.1 1042.5,257.3 1042.9,234.6 1044.1,243.6 1044.5,209.6 1045.6,232.3 1047.0,206.7 1047.4,236.0 1048.3,202.8 1048.8,227.2 1049.0,195.9 1050.2,233.2" stroke-width="1.4" stroke-opacity="0.75"/><use href="#sp" stroke-width="2.2"/><path d="M1051.4 187V150.6" stroke-width="1.9" stroke-linecap="butt" stroke="#eee"/><path d="M187.5 421V403.5" stroke-width="2" stroke="#ddd" stroke-linecap="butt"/></g>
<g id="arrow" stroke="#76c40c" stroke-width="3.1" fill="none">
<path d="M99 150.1H1052.8"/>
<path d="M110.3 141.6L97.8 150.1L110.3 158" stroke-width="3"/>
</g>
<rect x="42.2" y="80" width="11.4" height="10.3" fill="#e8e8e8"/>
<g id="bicon"><path d="M1137.3 598.3H1150.7Q1152.2 598.3 1152.2 599.8V613.5Q1152.2 615 1150.7 615H1146.6L1143.9 617.9L1141.3 615H1137.3Q1135.8 615 1135.8 613.5V599.8Q1135.8 598.3 1137.3 598.3Z" fill="#fff"/>
<path d="M1139.2 607.2V611.4M1148.6 607.2V611.4" stroke="#555" stroke-width="1.3"/>
<path d="M1142.5 604.7V611.4M1145.6 602.5V611.4" stroke="#111" stroke-width="1.5"/></g>
</svg>
<div class="t title"><span class="w" style="left:34.5px;letter-spacing:0.64px">Arabica</span> <span class="w" style="left:179.5px;letter-spacing:0.71px">Coffee</span> <span class="w" style="left:304.6px;letter-spacing:0.68px">Futures</span> <span class="w" style="left:450.4px;letter-spacing:1.52px">Hit</span> <span class="w" style="left:517.0px;letter-spacing:0.26px">Highest</span> <span class="w" style="left:663.5px;letter-spacing:1.27px">Since</span> <span class="w" style="font-family:'DejaVu Sans',sans-serif;left:772.5px;letter-spacing:1.92px">1997</span></div>
<div class="t sub"><span class="w" style="left:33.7px;letter-spacing:1.86px">Prices</span> <span class="w" style="left:124.7px;letter-spacing:1.35px">climb</span> <span class="w" style="left:204.1px;letter-spacing:2.20px">on</span> <span class="w" style="left:245.3px;letter-spacing:1.08px">concerns</span> <span class="w" style="left:368.9px;letter-spacing:1.38px">over</span> <span class="w" style="left:435.9px;letter-spacing:1.09px">production</span> <span class="w" style="left:584.2px;letter-spacing:1.55px">in</span> <span class="w" style="left:619.7px;letter-spacing:0.27px">top</span> <span class="w" style="left:670.4px;letter-spacing:0.91px">grower</span> <span class="w" style="left:771.2px;letter-spacing:2.22px">Brazil</span></div>
<div class="t leg"><span class="w" style="left:57.9px;letter-spacing:0.21px">Arabica</span> <span class="w" style="left:119.9px;letter-spacing:0.54px">coffee</span> <span class="w" style="left:174.1px;letter-spacing:0.28px">futures</span></div>
<div class="t xl" style="left:101px">1996-1999</div>
<div class="t xl" style="left:257.5px">2000-2004</div>
<div class="t xl" style="left:434.7px">2005-2009</div>
<div class="t xl" style="left:614.1px">2010-2014</div>
<div class="t xl" style="left:793.8px">2015-2019</div>
<div class="t xl" style="left:969.1px">2020-2024</div>
<div class="t yl" style="top:152.2px">3.00</div>
<div class="t yl" style="top:219.8px">2.50</div>
<div class="t yl" style="top:287.3px">2.00</div>
<div class="t yl" style="top:354.7px">1.50</div>
<div class="t yl" style="top:422.7px">1.00</div>
<div class="t yl" style="top:490.2px">0.50</div>
<div class="t" id="ytitle">US dollars per pound</div>
<div class="t src"><span class="w" style="left:38.9px;letter-spacing:0.93px">Source:</span> <span class="w" style="left:115.0px;letter-spacing:3.15px">ICE</span> <span class="w" style="left:154.2px;letter-spacing:0.60px">Futures</span> <span class="w" style="left:229.6px;letter-spacing:2.10px">US</span></div>
<div class="t" id="bb">Bloomberg</div>
</body></html>
